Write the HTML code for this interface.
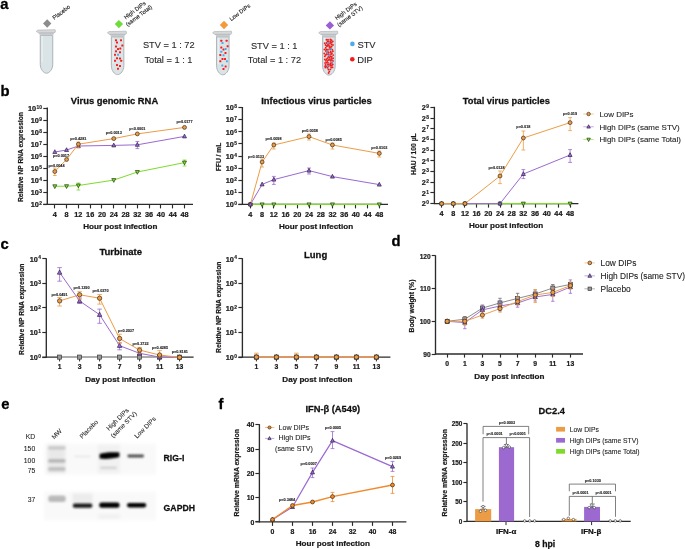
<!DOCTYPE html>
<html><head><meta charset="utf-8"><title>Figure</title>
<style>
html,body{margin:0;padding:0;background:#fff;}
body{width:685px;height:549px;overflow:hidden;}
svg{display:block;font-family:"Liberation Sans", sans-serif;will-change:transform;}
</style></head><body>
<svg width="685" height="549" viewBox="0 0 685 549">
<rect width="685" height="549" fill="#fff"/>
<text x="0.20" y="8.70" font-size="14.8" font-weight="bold" stroke="#000" stroke-width="0.300" stroke-linejoin="round" text-anchor="start" fill="#000">a</text>
<path d="M40.25,32.70 L40.25,64.20 C40.25,69.20 43.50,73.20 46.50,73.20 C49.50,73.20 52.75,69.20 52.75,64.20 L52.75,32.70 Z" fill="#dae4e6" stroke="#adb3b7" stroke-width="1.0"/>
<rect x="41.45" y="35.70" width="1.3" height="26.50" fill="#eaeff1"/>
<path d="M38.30,32.10 L54.70,32.10 L52.55,35.50 L40.45,35.50 Z" fill="#c9cccf"/>
<rect x="40.75" y="35.10" width="11.50" height="0.8" fill="#b2b6b9"/>
<path d="M36.30,31.30 L37.90,30.10 L55.10,29.70 L55.40,32.10 L54.00,32.80 L39.90,32.80 L38.50,33.00 Z" fill="#d6d8da" stroke="#a9adb0" stroke-width="0.6" stroke-linejoin="round"/>
<rect x="44.25" y="20.55" width="5.9" height="5.9" fill="#8c8c8c" transform="rotate(45 47.20 23.50)"/>
<g transform="translate(62.40 13.90) rotate(-37)"><text x="0" y="0.00" font-size="5.7" text-anchor="middle" fill="#222" stroke="#222" stroke-width="0.12">Placebo</text></g>
<path d="M111.35,34.20 L111.35,65.60 C111.35,70.60 114.60,74.60 117.60,74.60 C120.60,74.60 123.85,70.60 123.85,65.60 L123.85,34.20 Z" fill="#dae4e6" stroke="#adb3b7" stroke-width="1.0"/>
<rect x="112.55" y="37.20" width="1.3" height="26.40" fill="#eaeff1"/>
<path d="M109.40,33.60 L125.80,33.60 L123.65,37.00 L111.55,37.00 Z" fill="#c9cccf"/>
<rect x="111.85" y="36.60" width="11.50" height="0.8" fill="#b2b6b9"/>
<path d="M107.40,32.80 L109.00,31.60 L126.20,31.20 L126.50,33.60 L125.10,34.30 L111.00,34.30 L109.60,34.50 Z" fill="#d6d8da" stroke="#a9adb0" stroke-width="0.6" stroke-linejoin="round"/>
<rect x="115.95" y="21.15" width="5.9" height="5.9" fill="#6fdc3a" transform="rotate(45 118.90 24.10)"/>
<g transform="translate(136.00 11.80) rotate(-37)"><text x="0" y="0.00" font-size="5.7" text-anchor="middle" fill="#222" stroke="#222" stroke-width="0.12">High DIPs</text><text x="0" y="6.70" font-size="5.7" text-anchor="middle" fill="#222" stroke="#222" stroke-width="0.12">(same Total)</text></g>
<path d="M216.55,34.20 L216.55,65.80 C216.55,70.80 219.80,74.80 222.80,74.80 C225.80,74.80 229.05,70.80 229.05,65.80 L229.05,34.20 Z" fill="#dae4e6" stroke="#adb3b7" stroke-width="1.0"/>
<rect x="217.75" y="37.20" width="1.3" height="26.60" fill="#eaeff1"/>
<path d="M214.60,33.60 L231.00,33.60 L228.85,37.00 L216.75,37.00 Z" fill="#c9cccf"/>
<rect x="217.05" y="36.60" width="11.50" height="0.8" fill="#b2b6b9"/>
<path d="M212.60,32.80 L214.20,31.60 L231.40,31.20 L231.70,33.60 L230.30,34.30 L216.20,34.30 L214.80,34.50 Z" fill="#d6d8da" stroke="#a9adb0" stroke-width="0.6" stroke-linejoin="round"/>
<rect x="221.05" y="22.05" width="5.9" height="5.9" fill="#f29a3c" transform="rotate(45 224.00 25.00)"/>
<g transform="translate(241.00 13.90) rotate(-37)"><text x="0" y="0.00" font-size="5.7" text-anchor="middle" fill="#222" stroke="#222" stroke-width="0.12">Low DIPs</text></g>
<path d="M322.65,34.20 L322.65,66.10 C322.65,71.10 325.90,75.10 328.90,75.10 C331.90,75.10 335.15,71.10 335.15,66.10 L335.15,34.20 Z" fill="#dae4e6" stroke="#adb3b7" stroke-width="1.0"/>
<rect x="323.85" y="37.20" width="1.3" height="26.90" fill="#eaeff1"/>
<path d="M320.70,33.60 L337.10,33.60 L334.95,37.00 L322.85,37.00 Z" fill="#c9cccf"/>
<rect x="323.15" y="36.60" width="11.50" height="0.8" fill="#b2b6b9"/>
<path d="M318.70,32.80 L320.30,31.60 L337.50,31.20 L337.80,33.60 L336.40,34.30 L322.30,34.30 L320.90,34.50 Z" fill="#d6d8da" stroke="#a9adb0" stroke-width="0.6" stroke-linejoin="round"/>
<rect x="326.95" y="22.45" width="5.9" height="5.9" fill="#9a5fd0" transform="rotate(45 329.90 25.40)"/>
<g transform="translate(347.00 12.50) rotate(-37)"><text x="0" y="0.00" font-size="5.7" text-anchor="middle" fill="#222" stroke="#222" stroke-width="0.12">High DIPs</text><text x="0" y="6.70" font-size="5.7" text-anchor="middle" fill="#222" stroke="#222" stroke-width="0.12">(same STV)</text></g>
<rect x="115.00" y="39.20" width="2.0" height="2.0" rx="0.5" fill="#fa1a1a"/>
<rect x="120.00" y="39.20" width="2.0" height="2.0" rx="0.5" fill="#fa1a1a"/>
<rect x="116.00" y="41.50" width="2.0" height="2.0" rx="0.5" fill="#fa1a1a"/>
<rect x="121.30" y="44.50" width="2.0" height="2.0" rx="0.5" fill="#fa1a1a"/>
<rect x="115.00" y="45.50" width="2.0" height="2.0" rx="0.5" fill="#fa1a1a"/>
<rect x="117.00" y="48.00" width="2.0" height="2.0" rx="0.5" fill="#fa1a1a"/>
<rect x="119.30" y="47.50" width="2.0" height="2.0" rx="0.5" fill="#fa1a1a"/>
<rect x="115.00" y="50.30" width="2.0" height="2.0" rx="0.5" fill="#fa1a1a"/>
<rect x="119.00" y="51.30" width="2.0" height="2.0" rx="0.5" fill="#fa1a1a"/>
<rect x="114.00" y="53.80" width="2.0" height="2.0" rx="0.5" fill="#fa1a1a"/>
<rect x="117.00" y="53.80" width="2.0" height="2.0" rx="0.5" fill="#4ea9ea"/>
<rect x="116.00" y="57.30" width="2.0" height="2.0" rx="0.5" fill="#fa1a1a"/>
<rect x="119.00" y="57.60" width="2.0" height="2.0" rx="0.5" fill="#fa1a1a"/>
<rect x="114.00" y="59.80" width="2.0" height="2.0" rx="0.5" fill="#fa1a1a"/>
<rect x="120.20" y="59.80" width="2.0" height="2.0" rx="0.5" fill="#fa1a1a"/>
<rect x="116.00" y="64.10" width="2.0" height="2.0" rx="0.5" fill="#fa1a1a"/>
<rect x="119.00" y="65.10" width="2.0" height="2.0" rx="0.5" fill="#fa1a1a"/>
<rect x="117.00" y="67.80" width="2.0" height="2.0" rx="0.5" fill="#fa1a1a"/>
<rect x="220.30" y="39.80" width="2.0" height="2.0" rx="0.5" fill="#fa1a1a"/>
<rect x="225.60" y="39.80" width="2.0" height="2.0" rx="0.5" fill="#fa1a1a"/>
<rect x="226.60" y="45.20" width="2.0" height="2.0" rx="0.5" fill="#fa1a1a"/>
<rect x="220.30" y="46.50" width="2.0" height="2.0" rx="0.5" fill="#fa1a1a"/>
<rect x="222.50" y="48.50" width="2.0" height="2.0" rx="0.5" fill="#fa1a1a"/>
<rect x="224.50" y="52.10" width="2.0" height="2.0" rx="0.5" fill="#fa1a1a"/>
<rect x="219.30" y="54.10" width="2.0" height="2.0" rx="0.5" fill="#fa1a1a"/>
<rect x="221.50" y="57.90" width="2.0" height="2.0" rx="0.5" fill="#fa1a1a"/>
<rect x="224.00" y="58.10" width="2.0" height="2.0" rx="0.5" fill="#fa1a1a"/>
<rect x="219.30" y="60.30" width="2.0" height="2.0" rx="0.5" fill="#fa1a1a"/>
<rect x="222.50" y="68.10" width="2.0" height="2.0" rx="0.5" fill="#fa1a1a"/>
<rect x="224.60" y="65.60" width="2.0" height="2.0" rx="0.5" fill="#fa1a1a"/>
<rect x="221.50" y="42.00" width="2.0" height="2.0" rx="0.5" fill="#4ea9ea"/>
<rect x="224.60" y="48.00" width="2.0" height="2.0" rx="0.5" fill="#4ea9ea"/>
<rect x="220.30" y="50.80" width="2.0" height="2.0" rx="0.5" fill="#4ea9ea"/>
<rect x="222.50" y="54.30" width="2.0" height="2.0" rx="0.5" fill="#4ea9ea"/>
<rect x="225.90" y="60.30" width="2.0" height="2.0" rx="0.5" fill="#4ea9ea"/>
<rect x="221.30" y="64.60" width="2.0" height="2.0" rx="0.5" fill="#4ea9ea"/>
<circle cx="326.47" cy="39.81" r="0.95" fill="#f21c1c"/>
<circle cx="328.02" cy="39.81" r="0.95" fill="#f21c1c"/>
<circle cx="330.36" cy="39.43" r="0.95" fill="#f21c1c"/>
<circle cx="331.53" cy="40.08" r="0.95" fill="#f21c1c"/>
<circle cx="327.54" cy="41.55" r="0.95" fill="#f21c1c"/>
<circle cx="328.76" cy="41.48" r="0.95" fill="#f21c1c"/>
<circle cx="330.72" cy="41.22" r="0.95" fill="#f21c1c"/>
<circle cx="332.77" cy="41.40" r="0.95" fill="#f21c1c"/>
<circle cx="324.72" cy="43.23" r="0.95" fill="#f21c1c"/>
<circle cx="326.65" cy="43.06" r="0.95" fill="#f21c1c"/>
<circle cx="328.75" cy="43.55" r="0.95" fill="#f21c1c"/>
<circle cx="330.29" cy="42.93" r="0.95" fill="#f21c1c"/>
<circle cx="331.71" cy="42.71" r="0.95" fill="#f21c1c"/>
<circle cx="325.51" cy="45.06" r="0.95" fill="#f21c1c"/>
<circle cx="327.81" cy="45.06" r="0.95" fill="#f21c1c"/>
<circle cx="328.94" cy="45.12" r="0.95" fill="#f21c1c"/>
<circle cx="331.43" cy="44.66" r="0.95" fill="#f21c1c"/>
<circle cx="332.92" cy="45.00" r="0.95" fill="#f21c1c"/>
<circle cx="326.73" cy="46.06" r="0.95" fill="#f21c1c"/>
<circle cx="327.94" cy="46.00" r="0.95" fill="#f21c1c"/>
<circle cx="329.81" cy="46.45" r="0.95" fill="#f21c1c"/>
<circle cx="331.62" cy="46.61" r="0.95" fill="#f21c1c"/>
<circle cx="325.73" cy="47.70" r="0.95" fill="#f21c1c"/>
<circle cx="329.47" cy="47.87" r="0.95" fill="#f21c1c"/>
<circle cx="330.74" cy="47.95" r="0.95" fill="#f21c1c"/>
<circle cx="324.44" cy="49.48" r="0.95" fill="#f21c1c"/>
<circle cx="326.35" cy="49.52" r="0.95" fill="#f21c1c"/>
<circle cx="327.93" cy="49.77" r="0.95" fill="#f21c1c"/>
<circle cx="330.19" cy="49.58" r="0.95" fill="#f21c1c"/>
<circle cx="332.31" cy="49.69" r="0.95" fill="#f21c1c"/>
<circle cx="325.93" cy="51.06" r="0.95" fill="#f21c1c"/>
<circle cx="327.77" cy="51.64" r="0.95" fill="#f21c1c"/>
<circle cx="330.73" cy="51.76" r="0.95" fill="#f21c1c"/>
<circle cx="332.89" cy="51.28" r="0.95" fill="#f21c1c"/>
<circle cx="324.28" cy="53.42" r="0.95" fill="#f21c1c"/>
<circle cx="326.68" cy="52.78" r="0.95" fill="#f21c1c"/>
<circle cx="328.39" cy="52.81" r="0.95" fill="#f21c1c"/>
<circle cx="330.30" cy="52.61" r="0.95" fill="#f21c1c"/>
<circle cx="331.95" cy="53.32" r="0.95" fill="#f21c1c"/>
<circle cx="325.40" cy="55.03" r="0.95" fill="#f21c1c"/>
<circle cx="326.96" cy="54.44" r="0.95" fill="#f21c1c"/>
<circle cx="328.80" cy="54.36" r="0.95" fill="#f21c1c"/>
<circle cx="331.06" cy="54.32" r="0.95" fill="#f21c1c"/>
<circle cx="333.15" cy="55.08" r="0.95" fill="#f21c1c"/>
<circle cx="324.87" cy="56.38" r="0.95" fill="#f21c1c"/>
<circle cx="328.48" cy="56.72" r="0.95" fill="#f21c1c"/>
<circle cx="330.22" cy="56.28" r="0.95" fill="#f21c1c"/>
<circle cx="331.74" cy="56.75" r="0.95" fill="#f21c1c"/>
<circle cx="327.61" cy="58.13" r="0.95" fill="#f21c1c"/>
<circle cx="329.57" cy="57.82" r="0.95" fill="#f21c1c"/>
<circle cx="331.36" cy="58.28" r="0.95" fill="#f21c1c"/>
<circle cx="333.06" cy="58.28" r="0.95" fill="#f21c1c"/>
<circle cx="324.81" cy="59.49" r="0.95" fill="#f21c1c"/>
<circle cx="326.60" cy="59.22" r="0.95" fill="#f21c1c"/>
<circle cx="328.74" cy="59.94" r="0.95" fill="#f21c1c"/>
<circle cx="330.00" cy="59.81" r="0.95" fill="#f21c1c"/>
<circle cx="331.85" cy="59.90" r="0.95" fill="#f21c1c"/>
<circle cx="325.83" cy="60.83" r="0.95" fill="#f21c1c"/>
<circle cx="327.38" cy="61.01" r="0.95" fill="#f21c1c"/>
<circle cx="330.78" cy="60.81" r="0.95" fill="#f21c1c"/>
<circle cx="332.96" cy="60.98" r="0.95" fill="#f21c1c"/>
<circle cx="325.07" cy="63.04" r="0.95" fill="#f21c1c"/>
<circle cx="326.85" cy="62.74" r="0.95" fill="#f21c1c"/>
<circle cx="328.03" cy="62.84" r="0.95" fill="#f21c1c"/>
<circle cx="330.47" cy="63.24" r="0.95" fill="#f21c1c"/>
<circle cx="331.97" cy="62.73" r="0.95" fill="#f21c1c"/>
<circle cx="325.60" cy="64.85" r="0.95" fill="#f21c1c"/>
<circle cx="327.59" cy="64.96" r="0.95" fill="#f21c1c"/>
<circle cx="328.90" cy="64.51" r="0.95" fill="#f21c1c"/>
<circle cx="330.74" cy="64.47" r="0.95" fill="#f21c1c"/>
<circle cx="332.79" cy="64.38" r="0.95" fill="#f21c1c"/>
<circle cx="325.13" cy="66.16" r="0.95" fill="#f21c1c"/>
<circle cx="326.08" cy="66.54" r="0.95" fill="#f21c1c"/>
<circle cx="328.49" cy="66.26" r="0.95" fill="#f21c1c"/>
<circle cx="330.36" cy="65.77" r="0.95" fill="#f21c1c"/>
<circle cx="331.86" cy="65.77" r="0.95" fill="#f21c1c"/>
<circle cx="325.36" cy="67.53" r="0.95" fill="#f21c1c"/>
<circle cx="327.52" cy="67.80" r="0.95" fill="#f21c1c"/>
<circle cx="331.17" cy="67.58" r="0.95" fill="#f21c1c"/>
<circle cx="332.51" cy="67.41" r="0.95" fill="#f21c1c"/>
<circle cx="328.48" cy="69.52" r="0.95" fill="#f21c1c"/>
<circle cx="330.33" cy="69.40" r="0.95" fill="#f21c1c"/>
<circle cx="329.31" cy="71.52" r="0.95" fill="#f21c1c"/>
<circle cx="328.59" cy="72.93" r="0.95" fill="#f21c1c"/>
<circle cx="328.00" cy="43.00" r="1.0" fill="#4ea9ea"/>
<circle cx="331.10" cy="49.10" r="1.0" fill="#4ea9ea"/>
<circle cx="327.00" cy="52.10" r="1.0" fill="#4ea9ea"/>
<circle cx="329.00" cy="55.60" r="1.0" fill="#4ea9ea"/>
<circle cx="332.30" cy="61.90" r="1.0" fill="#4ea9ea"/>
<circle cx="327.80" cy="66.10" r="1.0" fill="#4ea9ea"/>
<text x="142.90" y="48.10" font-size="9.25" stroke="#2a2a2a" stroke-width="0.111" stroke-linejoin="round" text-anchor="start" fill="#2a2a2a">STV = 1 : 72</text>
<text x="144.40" y="63.20" font-size="9.25" stroke="#2a2a2a" stroke-width="0.111" stroke-linejoin="round" text-anchor="start" fill="#2a2a2a">Total = 1 : 1</text>
<text x="250.90" y="48.90" font-size="9.25" stroke="#2a2a2a" stroke-width="0.111" stroke-linejoin="round" text-anchor="start" fill="#2a2a2a">STV = 1 : 1</text>
<text x="247.80" y="63.30" font-size="9.25" stroke="#2a2a2a" stroke-width="0.111" stroke-linejoin="round" text-anchor="start" fill="#2a2a2a">Total = 1 : 72</text>
<circle cx="352.4" cy="43.9" r="2.3" fill="#4ea9ea"/>
<circle cx="352.3" cy="59.3" r="2.3" fill="#f21c1c"/>
<text x="357.40" y="47.90" font-size="9.4" stroke="#2a2a2a" stroke-width="0.113" stroke-linejoin="round" text-anchor="start" fill="#2a2a2a">STV</text>
<text x="357.20" y="63.10" font-size="9.4" stroke="#2a2a2a" stroke-width="0.113" stroke-linejoin="round" text-anchor="start" fill="#2a2a2a">DIP</text>
<text x="0.60" y="96.00" font-size="14.8" font-weight="bold" stroke="#000" stroke-width="0.300" stroke-linejoin="round" text-anchor="start" fill="#000">b</text>
<text x="114.50" y="104.00" font-size="9.4" font-weight="bold" stroke="#111" stroke-width="0.282" stroke-linejoin="round" text-anchor="middle" fill="#111">Virus genomic RNA</text>
<line x1="47.30" y1="107.40" x2="47.30" y2="205.00" stroke="#2b2b2b" stroke-width="1.35"/>
<line x1="43.30" y1="108.50" x2="47.30" y2="108.50" stroke="#2b2b2b" stroke-width="1.15"/>
<text x="41.95" y="108.70" font-size="4.9" font-weight="bold" stroke="#1a1a1a" stroke-width="0.147" stroke-linejoin="round" text-anchor="end" fill="#1a1a1a">10</text>
<text x="36.05" y="110.75" font-size="7.3" font-weight="bold" stroke="#1a1a1a" stroke-width="0.219" stroke-linejoin="round" text-anchor="end" fill="#1a1a1a">10</text>
<line x1="43.30" y1="120.50" x2="47.30" y2="120.50" stroke="#2b2b2b" stroke-width="1.15"/>
<text x="41.95" y="120.75" font-size="4.9" font-weight="bold" stroke="#1a1a1a" stroke-width="0.147" stroke-linejoin="round" text-anchor="end" fill="#1a1a1a">9</text>
<text x="38.78" y="122.80" font-size="7.3" font-weight="bold" stroke="#1a1a1a" stroke-width="0.219" stroke-linejoin="round" text-anchor="end" fill="#1a1a1a">10</text>
<line x1="43.30" y1="132.50" x2="47.30" y2="132.50" stroke="#2b2b2b" stroke-width="1.15"/>
<text x="41.95" y="132.80" font-size="4.9" font-weight="bold" stroke="#1a1a1a" stroke-width="0.147" stroke-linejoin="round" text-anchor="end" fill="#1a1a1a">8</text>
<text x="38.78" y="134.85" font-size="7.3" font-weight="bold" stroke="#1a1a1a" stroke-width="0.219" stroke-linejoin="round" text-anchor="end" fill="#1a1a1a">10</text>
<line x1="43.30" y1="144.50" x2="47.30" y2="144.50" stroke="#2b2b2b" stroke-width="1.15"/>
<text x="41.95" y="144.85" font-size="4.9" font-weight="bold" stroke="#1a1a1a" stroke-width="0.147" stroke-linejoin="round" text-anchor="end" fill="#1a1a1a">7</text>
<text x="38.78" y="146.90" font-size="7.3" font-weight="bold" stroke="#1a1a1a" stroke-width="0.219" stroke-linejoin="round" text-anchor="end" fill="#1a1a1a">10</text>
<line x1="43.30" y1="156.50" x2="47.30" y2="156.50" stroke="#2b2b2b" stroke-width="1.15"/>
<text x="41.95" y="156.90" font-size="4.9" font-weight="bold" stroke="#1a1a1a" stroke-width="0.147" stroke-linejoin="round" text-anchor="end" fill="#1a1a1a">6</text>
<text x="38.78" y="158.95" font-size="7.3" font-weight="bold" stroke="#1a1a1a" stroke-width="0.219" stroke-linejoin="round" text-anchor="end" fill="#1a1a1a">10</text>
<line x1="43.30" y1="168.50" x2="47.30" y2="168.50" stroke="#2b2b2b" stroke-width="1.15"/>
<text x="41.95" y="168.95" font-size="4.9" font-weight="bold" stroke="#1a1a1a" stroke-width="0.147" stroke-linejoin="round" text-anchor="end" fill="#1a1a1a">5</text>
<text x="38.78" y="171.00" font-size="7.3" font-weight="bold" stroke="#1a1a1a" stroke-width="0.219" stroke-linejoin="round" text-anchor="end" fill="#1a1a1a">10</text>
<line x1="43.30" y1="180.50" x2="47.30" y2="180.50" stroke="#2b2b2b" stroke-width="1.15"/>
<text x="41.95" y="181.00" font-size="4.9" font-weight="bold" stroke="#1a1a1a" stroke-width="0.147" stroke-linejoin="round" text-anchor="end" fill="#1a1a1a">4</text>
<text x="38.78" y="183.05" font-size="7.3" font-weight="bold" stroke="#1a1a1a" stroke-width="0.219" stroke-linejoin="round" text-anchor="end" fill="#1a1a1a">10</text>
<line x1="43.30" y1="192.50" x2="47.30" y2="192.50" stroke="#2b2b2b" stroke-width="1.15"/>
<text x="41.95" y="193.05" font-size="4.9" font-weight="bold" stroke="#1a1a1a" stroke-width="0.147" stroke-linejoin="round" text-anchor="end" fill="#1a1a1a">3</text>
<text x="38.78" y="195.10" font-size="7.3" font-weight="bold" stroke="#1a1a1a" stroke-width="0.219" stroke-linejoin="round" text-anchor="end" fill="#1a1a1a">10</text>
<line x1="43.30" y1="204.50" x2="47.30" y2="204.50" stroke="#2b2b2b" stroke-width="1.15"/>
<text x="41.95" y="205.10" font-size="4.9" font-weight="bold" stroke="#1a1a1a" stroke-width="0.147" stroke-linejoin="round" text-anchor="end" fill="#1a1a1a">2</text>
<text x="38.78" y="207.15" font-size="7.3" font-weight="bold" stroke="#1a1a1a" stroke-width="0.219" stroke-linejoin="round" text-anchor="end" fill="#1a1a1a">10</text>
<line x1="43.20" y1="204.40" x2="193.00" y2="204.40" stroke="#2b2b2b" stroke-width="1.35"/>
<line x1="54.50" y1="204.40" x2="54.50" y2="208.40" stroke="#2b2b2b" stroke-width="1.15"/>
<text x="54.80" y="216.60" font-size="7.3" font-weight="bold" stroke="#1a1a1a" stroke-width="0.219" stroke-linejoin="round" text-anchor="middle" fill="#1a1a1a">4</text>
<line x1="66.50" y1="204.40" x2="66.50" y2="208.40" stroke="#2b2b2b" stroke-width="1.15"/>
<text x="66.59" y="216.60" font-size="7.3" font-weight="bold" stroke="#1a1a1a" stroke-width="0.219" stroke-linejoin="round" text-anchor="middle" fill="#1a1a1a">8</text>
<line x1="78.50" y1="204.40" x2="78.50" y2="208.40" stroke="#2b2b2b" stroke-width="1.15"/>
<text x="78.38" y="216.60" font-size="7.3" font-weight="bold" stroke="#1a1a1a" stroke-width="0.219" stroke-linejoin="round" text-anchor="middle" fill="#1a1a1a">12</text>
<line x1="90.50" y1="204.40" x2="90.50" y2="208.40" stroke="#2b2b2b" stroke-width="1.15"/>
<text x="90.18" y="216.60" font-size="7.3" font-weight="bold" stroke="#1a1a1a" stroke-width="0.219" stroke-linejoin="round" text-anchor="middle" fill="#1a1a1a">16</text>
<line x1="101.50" y1="204.40" x2="101.50" y2="208.40" stroke="#2b2b2b" stroke-width="1.15"/>
<text x="101.97" y="216.60" font-size="7.3" font-weight="bold" stroke="#1a1a1a" stroke-width="0.219" stroke-linejoin="round" text-anchor="middle" fill="#1a1a1a">20</text>
<line x1="113.50" y1="204.40" x2="113.50" y2="208.40" stroke="#2b2b2b" stroke-width="1.15"/>
<text x="113.76" y="216.60" font-size="7.3" font-weight="bold" stroke="#1a1a1a" stroke-width="0.219" stroke-linejoin="round" text-anchor="middle" fill="#1a1a1a">24</text>
<line x1="125.50" y1="204.40" x2="125.50" y2="208.40" stroke="#2b2b2b" stroke-width="1.15"/>
<text x="125.55" y="216.60" font-size="7.3" font-weight="bold" stroke="#1a1a1a" stroke-width="0.219" stroke-linejoin="round" text-anchor="middle" fill="#1a1a1a">28</text>
<line x1="137.50" y1="204.40" x2="137.50" y2="208.40" stroke="#2b2b2b" stroke-width="1.15"/>
<text x="137.34" y="216.60" font-size="7.3" font-weight="bold" stroke="#1a1a1a" stroke-width="0.219" stroke-linejoin="round" text-anchor="middle" fill="#1a1a1a">32</text>
<line x1="149.50" y1="204.40" x2="149.50" y2="208.40" stroke="#2b2b2b" stroke-width="1.15"/>
<text x="149.14" y="216.60" font-size="7.3" font-weight="bold" stroke="#1a1a1a" stroke-width="0.219" stroke-linejoin="round" text-anchor="middle" fill="#1a1a1a">36</text>
<line x1="160.50" y1="204.40" x2="160.50" y2="208.40" stroke="#2b2b2b" stroke-width="1.15"/>
<text x="160.93" y="216.60" font-size="7.3" font-weight="bold" stroke="#1a1a1a" stroke-width="0.219" stroke-linejoin="round" text-anchor="middle" fill="#1a1a1a">40</text>
<line x1="172.50" y1="204.40" x2="172.50" y2="208.40" stroke="#2b2b2b" stroke-width="1.15"/>
<text x="172.72" y="216.60" font-size="7.3" font-weight="bold" stroke="#1a1a1a" stroke-width="0.219" stroke-linejoin="round" text-anchor="middle" fill="#1a1a1a">44</text>
<line x1="184.50" y1="204.40" x2="184.50" y2="208.40" stroke="#2b2b2b" stroke-width="1.15"/>
<text x="184.51" y="216.60" font-size="7.3" font-weight="bold" stroke="#1a1a1a" stroke-width="0.219" stroke-linejoin="round" text-anchor="middle" fill="#1a1a1a">48</text>
<text x="120.30" y="228.70" font-size="8.1" font-weight="bold" stroke="#1a1a1a" stroke-width="0.243" stroke-linejoin="round" text-anchor="middle" fill="#1a1a1a">Hour post infection</text>
<text x="23.30" y="157.10" font-size="6.7" font-weight="bold" stroke="#1a1a1a" stroke-width="0.201" stroke-linejoin="round" text-anchor="middle" fill="#1a1a1a" transform="rotate(-90 23.30 157.10)">Relative NP RNA expression</text>
<polyline points="54.80,186.30 66.59,186.20 78.38,185.50 113.76,180.10 137.34,172.00 184.51,162.60" fill="none" stroke="#7EDB2C" stroke-width="1.0" stroke-linejoin="round"/>
<line x1="78.38" y1="183.00" x2="78.38" y2="190.00" stroke="#7EDB2C" stroke-width="0.8"/>
<line x1="76.48" y1="183.00" x2="80.28" y2="183.00" stroke="#7EDB2C" stroke-width="0.8"/>
<line x1="76.48" y1="190.00" x2="80.28" y2="190.00" stroke="#7EDB2C" stroke-width="0.8"/>
<line x1="184.51" y1="160.00" x2="184.51" y2="166.00" stroke="#7EDB2C" stroke-width="0.8"/>
<line x1="182.61" y1="160.00" x2="186.41" y2="160.00" stroke="#7EDB2C" stroke-width="0.8"/>
<line x1="182.61" y1="166.00" x2="186.41" y2="166.00" stroke="#7EDB2C" stroke-width="0.8"/>
<polygon points="54.80,188.58 52.80,184.78 56.80,184.78" fill="#7EDB2C" stroke="#1c3010" stroke-width="0.65" stroke-linejoin="round"/>
<polygon points="66.59,188.48 64.59,184.68 68.59,184.68" fill="#7EDB2C" stroke="#1c3010" stroke-width="0.65" stroke-linejoin="round"/>
<polygon points="78.38,187.78 76.38,183.98 80.38,183.98" fill="#7EDB2C" stroke="#1c3010" stroke-width="0.65" stroke-linejoin="round"/>
<polygon points="113.76,182.38 111.76,178.58 115.76,178.58" fill="#7EDB2C" stroke="#1c3010" stroke-width="0.65" stroke-linejoin="round"/>
<polygon points="137.34,174.28 135.34,170.48 139.34,170.48" fill="#7EDB2C" stroke="#1c3010" stroke-width="0.65" stroke-linejoin="round"/>
<polygon points="184.51,164.88 182.51,161.08 186.51,161.08" fill="#7EDB2C" stroke="#1c3010" stroke-width="0.65" stroke-linejoin="round"/>
<polyline points="54.80,152.00 66.59,150.00 78.38,146.00 113.76,145.40 137.34,144.80 184.51,136.40" fill="none" stroke="#9B69D0" stroke-width="1.0" stroke-linejoin="round"/>
<line x1="137.34" y1="141.50" x2="137.34" y2="148.60" stroke="#9B69D0" stroke-width="0.8"/>
<line x1="135.44" y1="141.50" x2="139.24" y2="141.50" stroke="#9B69D0" stroke-width="0.8"/>
<line x1="135.44" y1="148.60" x2="139.24" y2="148.60" stroke="#9B69D0" stroke-width="0.8"/>
<polygon points="54.80,149.72 52.80,153.52 56.80,153.52" fill="#9B69D0" stroke="#24183a" stroke-width="0.65" stroke-linejoin="round"/>
<polygon points="66.59,147.72 64.59,151.52 68.59,151.52" fill="#9B69D0" stroke="#24183a" stroke-width="0.65" stroke-linejoin="round"/>
<polygon points="78.38,143.72 76.38,147.52 80.38,147.52" fill="#9B69D0" stroke="#24183a" stroke-width="0.65" stroke-linejoin="round"/>
<polygon points="113.76,143.12 111.76,146.92 115.76,146.92" fill="#9B69D0" stroke="#24183a" stroke-width="0.65" stroke-linejoin="round"/>
<polygon points="137.34,142.52 135.34,146.32 139.34,146.32" fill="#9B69D0" stroke="#24183a" stroke-width="0.65" stroke-linejoin="round"/>
<polygon points="184.51,134.12 182.51,137.92 186.51,137.92" fill="#9B69D0" stroke="#24183a" stroke-width="0.65" stroke-linejoin="round"/>
<polyline points="54.80,171.50 66.59,159.50 78.38,144.20 113.76,138.60 137.34,133.90 184.51,127.40" fill="none" stroke="#ED9C46" stroke-width="1.0" stroke-linejoin="round"/>
<line x1="54.80" y1="168.00" x2="54.80" y2="175.50" stroke="#ED9C46" stroke-width="0.8"/>
<line x1="52.90" y1="168.00" x2="56.70" y2="168.00" stroke="#ED9C46" stroke-width="0.8"/>
<line x1="52.90" y1="175.50" x2="56.70" y2="175.50" stroke="#ED9C46" stroke-width="0.8"/>
<line x1="78.38" y1="142.00" x2="78.38" y2="148.00" stroke="#ED9C46" stroke-width="0.8"/>
<line x1="76.48" y1="142.00" x2="80.28" y2="142.00" stroke="#ED9C46" stroke-width="0.8"/>
<line x1="76.48" y1="148.00" x2="80.28" y2="148.00" stroke="#ED9C46" stroke-width="0.8"/>
<circle cx="54.80" cy="171.50" r="1.95" fill="#ED9C46" stroke="#2e2216" stroke-width="0.65"/>
<circle cx="66.59" cy="159.50" r="1.95" fill="#ED9C46" stroke="#2e2216" stroke-width="0.65"/>
<circle cx="78.38" cy="144.20" r="1.95" fill="#ED9C46" stroke="#2e2216" stroke-width="0.65"/>
<circle cx="113.76" cy="138.60" r="1.95" fill="#ED9C46" stroke="#2e2216" stroke-width="0.65"/>
<circle cx="137.34" cy="133.90" r="1.95" fill="#ED9C46" stroke="#2e2216" stroke-width="0.65"/>
<circle cx="184.51" cy="127.40" r="1.95" fill="#ED9C46" stroke="#2e2216" stroke-width="0.65"/>
<text x="56.50" y="167.00" font-size="3.8" font-weight="bold" stroke="#222" stroke-width="0.114" stroke-linejoin="round" text-anchor="middle" fill="#222">p=0.0044</text>
<text x="61.00" y="156.60" font-size="3.8" font-weight="bold" stroke="#222" stroke-width="0.114" stroke-linejoin="round" text-anchor="middle" fill="#222">p=0.0017</text>
<text x="78.38" y="140.00" font-size="3.8" font-weight="bold" stroke="#222" stroke-width="0.114" stroke-linejoin="round" text-anchor="middle" fill="#222">p=0.4281</text>
<text x="113.76" y="134.10" font-size="3.8" font-weight="bold" stroke="#222" stroke-width="0.114" stroke-linejoin="round" text-anchor="middle" fill="#222">p=0.0013</text>
<text x="137.34" y="130.40" font-size="3.8" font-weight="bold" stroke="#222" stroke-width="0.114" stroke-linejoin="round" text-anchor="middle" fill="#222">p&lt;0.0001</text>
<text x="184.51" y="123.20" font-size="3.8" font-weight="bold" stroke="#222" stroke-width="0.114" stroke-linejoin="round" text-anchor="middle" fill="#222">p=0.0177</text>
<text x="316.50" y="104.00" font-size="9.4" font-weight="bold" stroke="#111" stroke-width="0.282" stroke-linejoin="round" text-anchor="middle" fill="#111">Infectious virus particles</text>
<line x1="242.40" y1="107.00" x2="242.40" y2="205.00" stroke="#2b2b2b" stroke-width="1.35"/>
<line x1="238.40" y1="107.50" x2="242.40" y2="107.50" stroke="#2b2b2b" stroke-width="1.15"/>
<text x="237.05" y="108.30" font-size="4.9" font-weight="bold" stroke="#1a1a1a" stroke-width="0.147" stroke-linejoin="round" text-anchor="end" fill="#1a1a1a">8</text>
<text x="233.88" y="110.35" font-size="7.3" font-weight="bold" stroke="#1a1a1a" stroke-width="0.219" stroke-linejoin="round" text-anchor="end" fill="#1a1a1a">10</text>
<line x1="238.40" y1="119.50" x2="242.40" y2="119.50" stroke="#2b2b2b" stroke-width="1.15"/>
<text x="237.05" y="120.40" font-size="4.9" font-weight="bold" stroke="#1a1a1a" stroke-width="0.147" stroke-linejoin="round" text-anchor="end" fill="#1a1a1a">7</text>
<text x="233.88" y="122.45" font-size="7.3" font-weight="bold" stroke="#1a1a1a" stroke-width="0.219" stroke-linejoin="round" text-anchor="end" fill="#1a1a1a">10</text>
<line x1="238.40" y1="131.50" x2="242.40" y2="131.50" stroke="#2b2b2b" stroke-width="1.15"/>
<text x="237.05" y="132.50" font-size="4.9" font-weight="bold" stroke="#1a1a1a" stroke-width="0.147" stroke-linejoin="round" text-anchor="end" fill="#1a1a1a">6</text>
<text x="233.88" y="134.55" font-size="7.3" font-weight="bold" stroke="#1a1a1a" stroke-width="0.219" stroke-linejoin="round" text-anchor="end" fill="#1a1a1a">10</text>
<line x1="238.40" y1="143.50" x2="242.40" y2="143.50" stroke="#2b2b2b" stroke-width="1.15"/>
<text x="237.05" y="144.60" font-size="4.9" font-weight="bold" stroke="#1a1a1a" stroke-width="0.147" stroke-linejoin="round" text-anchor="end" fill="#1a1a1a">5</text>
<text x="233.88" y="146.65" font-size="7.3" font-weight="bold" stroke="#1a1a1a" stroke-width="0.219" stroke-linejoin="round" text-anchor="end" fill="#1a1a1a">10</text>
<line x1="238.40" y1="156.50" x2="242.40" y2="156.50" stroke="#2b2b2b" stroke-width="1.15"/>
<text x="237.05" y="156.70" font-size="4.9" font-weight="bold" stroke="#1a1a1a" stroke-width="0.147" stroke-linejoin="round" text-anchor="end" fill="#1a1a1a">4</text>
<text x="233.88" y="158.75" font-size="7.3" font-weight="bold" stroke="#1a1a1a" stroke-width="0.219" stroke-linejoin="round" text-anchor="end" fill="#1a1a1a">10</text>
<line x1="238.40" y1="168.50" x2="242.40" y2="168.50" stroke="#2b2b2b" stroke-width="1.15"/>
<text x="237.05" y="168.80" font-size="4.9" font-weight="bold" stroke="#1a1a1a" stroke-width="0.147" stroke-linejoin="round" text-anchor="end" fill="#1a1a1a">3</text>
<text x="233.88" y="170.85" font-size="7.3" font-weight="bold" stroke="#1a1a1a" stroke-width="0.219" stroke-linejoin="round" text-anchor="end" fill="#1a1a1a">10</text>
<line x1="238.40" y1="180.50" x2="242.40" y2="180.50" stroke="#2b2b2b" stroke-width="1.15"/>
<text x="237.05" y="180.90" font-size="4.9" font-weight="bold" stroke="#1a1a1a" stroke-width="0.147" stroke-linejoin="round" text-anchor="end" fill="#1a1a1a">2</text>
<text x="233.88" y="182.95" font-size="7.3" font-weight="bold" stroke="#1a1a1a" stroke-width="0.219" stroke-linejoin="round" text-anchor="end" fill="#1a1a1a">10</text>
<line x1="238.40" y1="192.50" x2="242.40" y2="192.50" stroke="#2b2b2b" stroke-width="1.15"/>
<text x="237.05" y="193.00" font-size="4.9" font-weight="bold" stroke="#1a1a1a" stroke-width="0.147" stroke-linejoin="round" text-anchor="end" fill="#1a1a1a">1</text>
<text x="233.88" y="195.05" font-size="7.3" font-weight="bold" stroke="#1a1a1a" stroke-width="0.219" stroke-linejoin="round" text-anchor="end" fill="#1a1a1a">10</text>
<line x1="238.40" y1="204.50" x2="242.40" y2="204.50" stroke="#2b2b2b" stroke-width="1.15"/>
<text x="237.05" y="205.10" font-size="4.9" font-weight="bold" stroke="#1a1a1a" stroke-width="0.147" stroke-linejoin="round" text-anchor="end" fill="#1a1a1a">0</text>
<text x="233.88" y="207.15" font-size="7.3" font-weight="bold" stroke="#1a1a1a" stroke-width="0.219" stroke-linejoin="round" text-anchor="end" fill="#1a1a1a">10</text>
<line x1="238.40" y1="204.40" x2="388.00" y2="204.40" stroke="#2b2b2b" stroke-width="1.35"/>
<line x1="250.50" y1="204.40" x2="250.50" y2="208.40" stroke="#2b2b2b" stroke-width="1.15"/>
<text x="250.40" y="216.60" font-size="7.3" font-weight="bold" stroke="#1a1a1a" stroke-width="0.219" stroke-linejoin="round" text-anchor="middle" fill="#1a1a1a">4</text>
<line x1="262.50" y1="204.40" x2="262.50" y2="208.40" stroke="#2b2b2b" stroke-width="1.15"/>
<text x="262.12" y="216.60" font-size="7.3" font-weight="bold" stroke="#1a1a1a" stroke-width="0.219" stroke-linejoin="round" text-anchor="middle" fill="#1a1a1a">8</text>
<line x1="273.50" y1="204.40" x2="273.50" y2="208.40" stroke="#2b2b2b" stroke-width="1.15"/>
<text x="273.84" y="216.60" font-size="7.3" font-weight="bold" stroke="#1a1a1a" stroke-width="0.219" stroke-linejoin="round" text-anchor="middle" fill="#1a1a1a">12</text>
<line x1="285.50" y1="204.40" x2="285.50" y2="208.40" stroke="#2b2b2b" stroke-width="1.15"/>
<text x="285.56" y="216.60" font-size="7.3" font-weight="bold" stroke="#1a1a1a" stroke-width="0.219" stroke-linejoin="round" text-anchor="middle" fill="#1a1a1a">16</text>
<line x1="297.50" y1="204.40" x2="297.50" y2="208.40" stroke="#2b2b2b" stroke-width="1.15"/>
<text x="297.28" y="216.60" font-size="7.3" font-weight="bold" stroke="#1a1a1a" stroke-width="0.219" stroke-linejoin="round" text-anchor="middle" fill="#1a1a1a">20</text>
<line x1="309.50" y1="204.40" x2="309.50" y2="208.40" stroke="#2b2b2b" stroke-width="1.15"/>
<text x="309.00" y="216.60" font-size="7.3" font-weight="bold" stroke="#1a1a1a" stroke-width="0.219" stroke-linejoin="round" text-anchor="middle" fill="#1a1a1a">24</text>
<line x1="320.50" y1="204.40" x2="320.50" y2="208.40" stroke="#2b2b2b" stroke-width="1.15"/>
<text x="320.72" y="216.60" font-size="7.3" font-weight="bold" stroke="#1a1a1a" stroke-width="0.219" stroke-linejoin="round" text-anchor="middle" fill="#1a1a1a">28</text>
<line x1="332.50" y1="204.40" x2="332.50" y2="208.40" stroke="#2b2b2b" stroke-width="1.15"/>
<text x="332.44" y="216.60" font-size="7.3" font-weight="bold" stroke="#1a1a1a" stroke-width="0.219" stroke-linejoin="round" text-anchor="middle" fill="#1a1a1a">32</text>
<line x1="344.50" y1="204.40" x2="344.50" y2="208.40" stroke="#2b2b2b" stroke-width="1.15"/>
<text x="344.16" y="216.60" font-size="7.3" font-weight="bold" stroke="#1a1a1a" stroke-width="0.219" stroke-linejoin="round" text-anchor="middle" fill="#1a1a1a">36</text>
<line x1="355.50" y1="204.40" x2="355.50" y2="208.40" stroke="#2b2b2b" stroke-width="1.15"/>
<text x="355.88" y="216.60" font-size="7.3" font-weight="bold" stroke="#1a1a1a" stroke-width="0.219" stroke-linejoin="round" text-anchor="middle" fill="#1a1a1a">40</text>
<line x1="367.50" y1="204.40" x2="367.50" y2="208.40" stroke="#2b2b2b" stroke-width="1.15"/>
<text x="367.60" y="216.60" font-size="7.3" font-weight="bold" stroke="#1a1a1a" stroke-width="0.219" stroke-linejoin="round" text-anchor="middle" fill="#1a1a1a">44</text>
<line x1="379.50" y1="204.40" x2="379.50" y2="208.40" stroke="#2b2b2b" stroke-width="1.15"/>
<text x="379.32" y="216.60" font-size="7.3" font-weight="bold" stroke="#1a1a1a" stroke-width="0.219" stroke-linejoin="round" text-anchor="middle" fill="#1a1a1a">48</text>
<text x="316.00" y="228.50" font-size="8.1" font-weight="bold" stroke="#1a1a1a" stroke-width="0.243" stroke-linejoin="round" text-anchor="middle" fill="#1a1a1a">Hour post infection</text>
<text x="221.10" y="157.00" font-size="6.65" font-weight="bold" stroke="#1a1a1a" stroke-width="0.200" stroke-linejoin="round" text-anchor="middle" fill="#1a1a1a" transform="rotate(-90 221.10 157.00)">FFU / mL</text>
<polyline points="250.40,204.40 262.12,204.40 273.84,204.40 309.00,204.40 332.44,204.40 379.32,204.40" fill="none" stroke="#7EDB2C" stroke-width="1.4" stroke-linejoin="round"/>
<polygon points="250.40,206.68 248.40,202.88 252.40,202.88" fill="#7EDB2C" stroke="#1c3010" stroke-width="0.65" stroke-linejoin="round"/>
<polygon points="262.12,206.68 260.12,202.88 264.12,202.88" fill="#7EDB2C" stroke="#1c3010" stroke-width="0.65" stroke-linejoin="round"/>
<polygon points="273.84,206.68 271.84,202.88 275.84,202.88" fill="#7EDB2C" stroke="#1c3010" stroke-width="0.65" stroke-linejoin="round"/>
<polygon points="309.00,206.68 307.00,202.88 311.00,202.88" fill="#7EDB2C" stroke="#1c3010" stroke-width="0.65" stroke-linejoin="round"/>
<polygon points="332.44,206.68 330.44,202.88 334.44,202.88" fill="#7EDB2C" stroke="#1c3010" stroke-width="0.65" stroke-linejoin="round"/>
<polygon points="379.32,206.68 377.32,202.88 381.32,202.88" fill="#7EDB2C" stroke="#1c3010" stroke-width="0.65" stroke-linejoin="round"/>
<polyline points="250.40,204.40 262.12,162.00 273.84,145.00 309.00,136.60 332.44,145.00 379.32,153.40" fill="none" stroke="#ED9C46" stroke-width="1.0" stroke-linejoin="round"/>
<line x1="262.12" y1="159.00" x2="262.12" y2="167.00" stroke="#ED9C46" stroke-width="0.8"/>
<line x1="260.22" y1="159.00" x2="264.02" y2="159.00" stroke="#ED9C46" stroke-width="0.8"/>
<line x1="260.22" y1="167.00" x2="264.02" y2="167.00" stroke="#ED9C46" stroke-width="0.8"/>
<line x1="273.84" y1="143.00" x2="273.84" y2="149.00" stroke="#ED9C46" stroke-width="0.8"/>
<line x1="271.94" y1="143.00" x2="275.74" y2="143.00" stroke="#ED9C46" stroke-width="0.8"/>
<line x1="271.94" y1="149.00" x2="275.74" y2="149.00" stroke="#ED9C46" stroke-width="0.8"/>
<line x1="309.00" y1="134.00" x2="309.00" y2="140.00" stroke="#ED9C46" stroke-width="0.8"/>
<line x1="307.10" y1="134.00" x2="310.90" y2="134.00" stroke="#ED9C46" stroke-width="0.8"/>
<line x1="307.10" y1="140.00" x2="310.90" y2="140.00" stroke="#ED9C46" stroke-width="0.8"/>
<line x1="332.44" y1="143.00" x2="332.44" y2="149.00" stroke="#ED9C46" stroke-width="0.8"/>
<line x1="330.54" y1="143.00" x2="334.34" y2="143.00" stroke="#ED9C46" stroke-width="0.8"/>
<line x1="330.54" y1="149.00" x2="334.34" y2="149.00" stroke="#ED9C46" stroke-width="0.8"/>
<line x1="379.32" y1="151.00" x2="379.32" y2="157.00" stroke="#ED9C46" stroke-width="0.8"/>
<line x1="377.42" y1="151.00" x2="381.22" y2="151.00" stroke="#ED9C46" stroke-width="0.8"/>
<line x1="377.42" y1="157.00" x2="381.22" y2="157.00" stroke="#ED9C46" stroke-width="0.8"/>
<circle cx="250.40" cy="204.40" r="1.95" fill="#ED9C46" stroke="#2e2216" stroke-width="0.65"/>
<circle cx="262.12" cy="162.00" r="1.95" fill="#ED9C46" stroke="#2e2216" stroke-width="0.65"/>
<circle cx="273.84" cy="145.00" r="1.95" fill="#ED9C46" stroke="#2e2216" stroke-width="0.65"/>
<circle cx="309.00" cy="136.60" r="1.95" fill="#ED9C46" stroke="#2e2216" stroke-width="0.65"/>
<circle cx="332.44" cy="145.00" r="1.95" fill="#ED9C46" stroke="#2e2216" stroke-width="0.65"/>
<circle cx="379.32" cy="153.40" r="1.95" fill="#ED9C46" stroke="#2e2216" stroke-width="0.65"/>
<polyline points="250.40,204.40 262.12,184.40 273.84,179.60 309.00,170.60 332.44,176.60 379.32,184.60" fill="none" stroke="#9B69D0" stroke-width="1.0" stroke-linejoin="round"/>
<line x1="273.84" y1="176.40" x2="273.84" y2="184.40" stroke="#9B69D0" stroke-width="0.8"/>
<line x1="271.94" y1="176.40" x2="275.74" y2="176.40" stroke="#9B69D0" stroke-width="0.8"/>
<line x1="271.94" y1="184.40" x2="275.74" y2="184.40" stroke="#9B69D0" stroke-width="0.8"/>
<line x1="309.00" y1="168.00" x2="309.00" y2="174.00" stroke="#9B69D0" stroke-width="0.8"/>
<line x1="307.10" y1="168.00" x2="310.90" y2="168.00" stroke="#9B69D0" stroke-width="0.8"/>
<line x1="307.10" y1="174.00" x2="310.90" y2="174.00" stroke="#9B69D0" stroke-width="0.8"/>
<polygon points="250.40,202.12 248.40,205.92 252.40,205.92" fill="#9B69D0" stroke="#24183a" stroke-width="0.65" stroke-linejoin="round"/>
<polygon points="262.12,182.12 260.12,185.92 264.12,185.92" fill="#9B69D0" stroke="#24183a" stroke-width="0.65" stroke-linejoin="round"/>
<polygon points="273.84,177.32 271.84,181.12 275.84,181.12" fill="#9B69D0" stroke="#24183a" stroke-width="0.65" stroke-linejoin="round"/>
<polygon points="309.00,168.32 307.00,172.12 311.00,172.12" fill="#9B69D0" stroke="#24183a" stroke-width="0.65" stroke-linejoin="round"/>
<polygon points="332.44,174.32 330.44,178.12 334.44,178.12" fill="#9B69D0" stroke="#24183a" stroke-width="0.65" stroke-linejoin="round"/>
<polygon points="379.32,182.32 377.32,186.12 381.32,186.12" fill="#9B69D0" stroke="#24183a" stroke-width="0.65" stroke-linejoin="round"/>
<text x="256.00" y="157.80" font-size="3.8" font-weight="bold" stroke="#222" stroke-width="0.114" stroke-linejoin="round" text-anchor="middle" fill="#222">p=0.0133</text>
<text x="273.50" y="140.40" font-size="3.8" font-weight="bold" stroke="#222" stroke-width="0.114" stroke-linejoin="round" text-anchor="middle" fill="#222">p=0.0098</text>
<text x="309.80" y="132.20" font-size="3.8" font-weight="bold" stroke="#222" stroke-width="0.114" stroke-linejoin="round" text-anchor="middle" fill="#222">p=0.0058</text>
<text x="333.70" y="140.80" font-size="3.8" font-weight="bold" stroke="#222" stroke-width="0.114" stroke-linejoin="round" text-anchor="middle" fill="#222">p=0.0085</text>
<text x="379.32" y="148.60" font-size="3.8" font-weight="bold" stroke="#222" stroke-width="0.114" stroke-linejoin="round" text-anchor="middle" fill="#222">p=0.0103</text>
<text x="506.30" y="104.00" font-size="9.3" font-weight="bold" stroke="#111" stroke-width="0.279" stroke-linejoin="round" text-anchor="middle" fill="#111">Total virus particles</text>
<line x1="434.40" y1="106.79" x2="434.40" y2="204.20" stroke="#2b2b2b" stroke-width="1.35"/>
<line x1="430.40" y1="107.50" x2="434.40" y2="107.50" stroke="#2b2b2b" stroke-width="1.15"/>
<text x="429.05" y="108.09" font-size="4.9" font-weight="bold" stroke="#1a1a1a" stroke-width="0.147" stroke-linejoin="round" text-anchor="end" fill="#1a1a1a">9</text>
<text x="425.88" y="110.14" font-size="7.3" font-weight="bold" stroke="#1a1a1a" stroke-width="0.219" stroke-linejoin="round" text-anchor="end" fill="#1a1a1a">2</text>
<line x1="430.40" y1="118.50" x2="434.40" y2="118.50" stroke="#2b2b2b" stroke-width="1.15"/>
<text x="429.05" y="118.78" font-size="4.9" font-weight="bold" stroke="#1a1a1a" stroke-width="0.147" stroke-linejoin="round" text-anchor="end" fill="#1a1a1a">8</text>
<text x="425.88" y="120.83" font-size="7.3" font-weight="bold" stroke="#1a1a1a" stroke-width="0.219" stroke-linejoin="round" text-anchor="end" fill="#1a1a1a">2</text>
<line x1="430.40" y1="128.50" x2="434.40" y2="128.50" stroke="#2b2b2b" stroke-width="1.15"/>
<text x="429.05" y="129.47" font-size="4.9" font-weight="bold" stroke="#1a1a1a" stroke-width="0.147" stroke-linejoin="round" text-anchor="end" fill="#1a1a1a">7</text>
<text x="425.88" y="131.52" font-size="7.3" font-weight="bold" stroke="#1a1a1a" stroke-width="0.219" stroke-linejoin="round" text-anchor="end" fill="#1a1a1a">2</text>
<line x1="430.40" y1="139.50" x2="434.40" y2="139.50" stroke="#2b2b2b" stroke-width="1.15"/>
<text x="429.05" y="140.16" font-size="4.9" font-weight="bold" stroke="#1a1a1a" stroke-width="0.147" stroke-linejoin="round" text-anchor="end" fill="#1a1a1a">6</text>
<text x="425.88" y="142.21" font-size="7.3" font-weight="bold" stroke="#1a1a1a" stroke-width="0.219" stroke-linejoin="round" text-anchor="end" fill="#1a1a1a">2</text>
<line x1="430.40" y1="150.50" x2="434.40" y2="150.50" stroke="#2b2b2b" stroke-width="1.15"/>
<text x="429.05" y="150.85" font-size="4.9" font-weight="bold" stroke="#1a1a1a" stroke-width="0.147" stroke-linejoin="round" text-anchor="end" fill="#1a1a1a">5</text>
<text x="425.88" y="152.90" font-size="7.3" font-weight="bold" stroke="#1a1a1a" stroke-width="0.219" stroke-linejoin="round" text-anchor="end" fill="#1a1a1a">2</text>
<line x1="430.40" y1="160.50" x2="434.40" y2="160.50" stroke="#2b2b2b" stroke-width="1.15"/>
<text x="429.05" y="161.54" font-size="4.9" font-weight="bold" stroke="#1a1a1a" stroke-width="0.147" stroke-linejoin="round" text-anchor="end" fill="#1a1a1a">4</text>
<text x="425.88" y="163.59" font-size="7.3" font-weight="bold" stroke="#1a1a1a" stroke-width="0.219" stroke-linejoin="round" text-anchor="end" fill="#1a1a1a">2</text>
<line x1="430.40" y1="171.50" x2="434.40" y2="171.50" stroke="#2b2b2b" stroke-width="1.15"/>
<text x="429.05" y="172.23" font-size="4.9" font-weight="bold" stroke="#1a1a1a" stroke-width="0.147" stroke-linejoin="round" text-anchor="end" fill="#1a1a1a">3</text>
<text x="425.88" y="174.28" font-size="7.3" font-weight="bold" stroke="#1a1a1a" stroke-width="0.219" stroke-linejoin="round" text-anchor="end" fill="#1a1a1a">2</text>
<line x1="430.40" y1="182.50" x2="434.40" y2="182.50" stroke="#2b2b2b" stroke-width="1.15"/>
<text x="429.05" y="182.92" font-size="4.9" font-weight="bold" stroke="#1a1a1a" stroke-width="0.147" stroke-linejoin="round" text-anchor="end" fill="#1a1a1a">2</text>
<text x="425.88" y="184.97" font-size="7.3" font-weight="bold" stroke="#1a1a1a" stroke-width="0.219" stroke-linejoin="round" text-anchor="end" fill="#1a1a1a">2</text>
<line x1="430.40" y1="192.50" x2="434.40" y2="192.50" stroke="#2b2b2b" stroke-width="1.15"/>
<text x="429.05" y="193.61" font-size="4.9" font-weight="bold" stroke="#1a1a1a" stroke-width="0.147" stroke-linejoin="round" text-anchor="end" fill="#1a1a1a">1</text>
<text x="425.88" y="195.66" font-size="7.3" font-weight="bold" stroke="#1a1a1a" stroke-width="0.219" stroke-linejoin="round" text-anchor="end" fill="#1a1a1a">2</text>
<line x1="430.40" y1="203.50" x2="434.40" y2="203.50" stroke="#2b2b2b" stroke-width="1.15"/>
<text x="429.05" y="204.30" font-size="4.9" font-weight="bold" stroke="#1a1a1a" stroke-width="0.147" stroke-linejoin="round" text-anchor="end" fill="#1a1a1a">0</text>
<text x="425.88" y="206.35" font-size="7.3" font-weight="bold" stroke="#1a1a1a" stroke-width="0.219" stroke-linejoin="round" text-anchor="end" fill="#1a1a1a">2</text>
<line x1="434.40" y1="203.60" x2="578.40" y2="203.60" stroke="#2b2b2b" stroke-width="1.35"/>
<line x1="441.50" y1="203.60" x2="441.50" y2="207.60" stroke="#2b2b2b" stroke-width="1.15"/>
<text x="441.60" y="215.80" font-size="7.3" font-weight="bold" stroke="#1a1a1a" stroke-width="0.219" stroke-linejoin="round" text-anchor="middle" fill="#1a1a1a">4</text>
<line x1="453.50" y1="203.60" x2="453.50" y2="207.60" stroke="#2b2b2b" stroke-width="1.15"/>
<text x="453.28" y="215.80" font-size="7.3" font-weight="bold" stroke="#1a1a1a" stroke-width="0.219" stroke-linejoin="round" text-anchor="middle" fill="#1a1a1a">8</text>
<line x1="464.50" y1="203.60" x2="464.50" y2="207.60" stroke="#2b2b2b" stroke-width="1.15"/>
<text x="464.96" y="215.80" font-size="7.3" font-weight="bold" stroke="#1a1a1a" stroke-width="0.219" stroke-linejoin="round" text-anchor="middle" fill="#1a1a1a">12</text>
<line x1="476.50" y1="203.60" x2="476.50" y2="207.60" stroke="#2b2b2b" stroke-width="1.15"/>
<text x="476.64" y="215.80" font-size="7.3" font-weight="bold" stroke="#1a1a1a" stroke-width="0.219" stroke-linejoin="round" text-anchor="middle" fill="#1a1a1a">16</text>
<line x1="488.50" y1="203.60" x2="488.50" y2="207.60" stroke="#2b2b2b" stroke-width="1.15"/>
<text x="488.32" y="215.80" font-size="7.3" font-weight="bold" stroke="#1a1a1a" stroke-width="0.219" stroke-linejoin="round" text-anchor="middle" fill="#1a1a1a">20</text>
<line x1="500.50" y1="203.60" x2="500.50" y2="207.60" stroke="#2b2b2b" stroke-width="1.15"/>
<text x="500.00" y="215.80" font-size="7.3" font-weight="bold" stroke="#1a1a1a" stroke-width="0.219" stroke-linejoin="round" text-anchor="middle" fill="#1a1a1a">24</text>
<line x1="511.50" y1="203.60" x2="511.50" y2="207.60" stroke="#2b2b2b" stroke-width="1.15"/>
<text x="511.68" y="215.80" font-size="7.3" font-weight="bold" stroke="#1a1a1a" stroke-width="0.219" stroke-linejoin="round" text-anchor="middle" fill="#1a1a1a">28</text>
<line x1="523.50" y1="203.60" x2="523.50" y2="207.60" stroke="#2b2b2b" stroke-width="1.15"/>
<text x="523.36" y="215.80" font-size="7.3" font-weight="bold" stroke="#1a1a1a" stroke-width="0.219" stroke-linejoin="round" text-anchor="middle" fill="#1a1a1a">32</text>
<line x1="535.50" y1="203.60" x2="535.50" y2="207.60" stroke="#2b2b2b" stroke-width="1.15"/>
<text x="535.04" y="215.80" font-size="7.3" font-weight="bold" stroke="#1a1a1a" stroke-width="0.219" stroke-linejoin="round" text-anchor="middle" fill="#1a1a1a">36</text>
<line x1="546.50" y1="203.60" x2="546.50" y2="207.60" stroke="#2b2b2b" stroke-width="1.15"/>
<text x="546.72" y="215.80" font-size="7.3" font-weight="bold" stroke="#1a1a1a" stroke-width="0.219" stroke-linejoin="round" text-anchor="middle" fill="#1a1a1a">40</text>
<line x1="558.50" y1="203.60" x2="558.50" y2="207.60" stroke="#2b2b2b" stroke-width="1.15"/>
<text x="558.40" y="215.80" font-size="7.3" font-weight="bold" stroke="#1a1a1a" stroke-width="0.219" stroke-linejoin="round" text-anchor="middle" fill="#1a1a1a">44</text>
<line x1="570.50" y1="203.60" x2="570.50" y2="207.60" stroke="#2b2b2b" stroke-width="1.15"/>
<text x="570.08" y="215.80" font-size="7.3" font-weight="bold" stroke="#1a1a1a" stroke-width="0.219" stroke-linejoin="round" text-anchor="middle" fill="#1a1a1a">48</text>
<text x="506.00" y="228.10" font-size="8.1" font-weight="bold" stroke="#1a1a1a" stroke-width="0.243" stroke-linejoin="round" text-anchor="middle" fill="#1a1a1a">Hour post infection</text>
<text x="416.20" y="154.10" font-size="6.8" font-weight="bold" stroke="#1a1a1a" stroke-width="0.204" stroke-linejoin="round" text-anchor="middle" fill="#1a1a1a" transform="rotate(-90 416.20 154.10)">HAU / 100 µL</text>
<polyline points="441.60,203.60 453.28,203.60 464.96,203.60 500.00,203.60 523.36,203.60 570.08,203.60" fill="none" stroke="#7EDB2C" stroke-width="1.4" stroke-linejoin="round"/>
<polygon points="441.60,205.88 439.60,202.08 443.60,202.08" fill="#7EDB2C" stroke="#1c3010" stroke-width="0.65" stroke-linejoin="round"/>
<polygon points="453.28,205.88 451.28,202.08 455.28,202.08" fill="#7EDB2C" stroke="#1c3010" stroke-width="0.65" stroke-linejoin="round"/>
<polygon points="464.96,205.88 462.96,202.08 466.96,202.08" fill="#7EDB2C" stroke="#1c3010" stroke-width="0.65" stroke-linejoin="round"/>
<polygon points="500.00,205.88 498.00,202.08 502.00,202.08" fill="#7EDB2C" stroke="#1c3010" stroke-width="0.65" stroke-linejoin="round"/>
<polygon points="523.36,205.88 521.36,202.08 525.36,202.08" fill="#7EDB2C" stroke="#1c3010" stroke-width="0.65" stroke-linejoin="round"/>
<polygon points="570.08,205.88 568.08,202.08 572.08,202.08" fill="#7EDB2C" stroke="#1c3010" stroke-width="0.65" stroke-linejoin="round"/>
<polyline points="441.60,203.60 453.28,203.60 464.96,203.60 500.00,203.60 523.36,174.00 570.08,155.00" fill="none" stroke="#9B69D0" stroke-width="1.0" stroke-linejoin="round"/>
<line x1="523.36" y1="169.60" x2="523.36" y2="178.60" stroke="#9B69D0" stroke-width="0.8"/>
<line x1="521.46" y1="169.60" x2="525.26" y2="169.60" stroke="#9B69D0" stroke-width="0.8"/>
<line x1="521.46" y1="178.60" x2="525.26" y2="178.60" stroke="#9B69D0" stroke-width="0.8"/>
<line x1="570.08" y1="149.60" x2="570.08" y2="162.40" stroke="#9B69D0" stroke-width="0.8"/>
<line x1="568.18" y1="149.60" x2="571.98" y2="149.60" stroke="#9B69D0" stroke-width="0.8"/>
<line x1="568.18" y1="162.40" x2="571.98" y2="162.40" stroke="#9B69D0" stroke-width="0.8"/>
<polygon points="441.60,201.32 439.60,205.12 443.60,205.12" fill="#9B69D0" stroke="#24183a" stroke-width="0.65" stroke-linejoin="round"/>
<polygon points="453.28,201.32 451.28,205.12 455.28,205.12" fill="#9B69D0" stroke="#24183a" stroke-width="0.65" stroke-linejoin="round"/>
<polygon points="464.96,201.32 462.96,205.12 466.96,205.12" fill="#9B69D0" stroke="#24183a" stroke-width="0.65" stroke-linejoin="round"/>
<polygon points="500.00,201.32 498.00,205.12 502.00,205.12" fill="#9B69D0" stroke="#24183a" stroke-width="0.65" stroke-linejoin="round"/>
<polygon points="523.36,171.72 521.36,175.52 525.36,175.52" fill="#9B69D0" stroke="#24183a" stroke-width="0.65" stroke-linejoin="round"/>
<polygon points="570.08,152.72 568.08,156.52 572.08,156.52" fill="#9B69D0" stroke="#24183a" stroke-width="0.65" stroke-linejoin="round"/>
<polyline points="441.60,203.60 453.28,203.60 464.96,203.60 500.00,176.00 523.36,138.00 570.08,122.60" fill="none" stroke="#ED9C46" stroke-width="1.0" stroke-linejoin="round"/>
<line x1="500.00" y1="171.00" x2="500.00" y2="183.60" stroke="#ED9C46" stroke-width="0.8"/>
<line x1="498.10" y1="171.00" x2="501.90" y2="171.00" stroke="#ED9C46" stroke-width="0.8"/>
<line x1="498.10" y1="183.60" x2="501.90" y2="183.60" stroke="#ED9C46" stroke-width="0.8"/>
<line x1="523.36" y1="131.00" x2="523.36" y2="150.00" stroke="#ED9C46" stroke-width="0.8"/>
<line x1="521.46" y1="131.00" x2="525.26" y2="131.00" stroke="#ED9C46" stroke-width="0.8"/>
<line x1="521.46" y1="150.00" x2="525.26" y2="150.00" stroke="#ED9C46" stroke-width="0.8"/>
<line x1="570.08" y1="117.60" x2="570.08" y2="130.60" stroke="#ED9C46" stroke-width="0.8"/>
<line x1="568.18" y1="117.60" x2="571.98" y2="117.60" stroke="#ED9C46" stroke-width="0.8"/>
<line x1="568.18" y1="130.60" x2="571.98" y2="130.60" stroke="#ED9C46" stroke-width="0.8"/>
<circle cx="441.60" cy="203.60" r="1.95" fill="#ED9C46" stroke="#2e2216" stroke-width="0.65"/>
<circle cx="453.28" cy="203.60" r="1.95" fill="#ED9C46" stroke="#2e2216" stroke-width="0.65"/>
<circle cx="464.96" cy="203.60" r="1.95" fill="#ED9C46" stroke="#2e2216" stroke-width="0.65"/>
<circle cx="500.00" cy="176.00" r="1.95" fill="#ED9C46" stroke="#2e2216" stroke-width="0.65"/>
<circle cx="523.36" cy="138.00" r="1.95" fill="#ED9C46" stroke="#2e2216" stroke-width="0.65"/>
<circle cx="570.08" cy="122.60" r="1.95" fill="#ED9C46" stroke="#2e2216" stroke-width="0.65"/>
<text x="496.50" y="169.00" font-size="3.8" font-weight="bold" stroke="#222" stroke-width="0.114" stroke-linejoin="round" text-anchor="middle" fill="#222">p=0.0138</text>
<text x="523.36" y="127.50" font-size="3.8" font-weight="bold" stroke="#222" stroke-width="0.114" stroke-linejoin="round" text-anchor="middle" fill="#222">p=0.018</text>
<text x="570.08" y="115.00" font-size="3.8" font-weight="bold" stroke="#222" stroke-width="0.114" stroke-linejoin="round" text-anchor="middle" fill="#222">p=0.019</text>
<line x1="583.30" y1="114.00" x2="593.80" y2="114.00" stroke="#ED9C46" stroke-width="1.0" opacity="0.55"/>
<circle cx="588.60" cy="114.00" r="1.72" fill="#ED9C46" stroke="#2e2216" stroke-width="0.65"/>
<text x="599.40" y="116.90" font-size="7.95" stroke="#222" stroke-width="0.095" stroke-linejoin="round" text-anchor="start" fill="#222">Low DIPs</text>
<line x1="583.30" y1="126.75" x2="593.80" y2="126.75" stroke="#9B69D0" stroke-width="1.0" opacity="0.55"/>
<polygon points="588.60,124.74 586.84,128.09 590.36,128.09" fill="#9B69D0" stroke="#24183a" stroke-width="0.65" stroke-linejoin="round"/>
<text x="599.40" y="129.65" font-size="7.95" stroke="#222" stroke-width="0.095" stroke-linejoin="round" text-anchor="start" fill="#222">High DIPs (same STV)</text>
<line x1="583.30" y1="139.50" x2="593.80" y2="139.50" stroke="#7EDB2C" stroke-width="1.0" opacity="0.55"/>
<polygon points="588.60,141.51 586.84,138.16 590.36,138.16" fill="#7EDB2C" stroke="#1c3010" stroke-width="0.65" stroke-linejoin="round"/>
<text x="599.40" y="142.40" font-size="7.95" stroke="#222" stroke-width="0.095" stroke-linejoin="round" text-anchor="start" fill="#222">High DIPs (same Total)</text>
<text x="0.60" y="248.70" font-size="14.8" font-weight="bold" stroke="#000" stroke-width="0.300" stroke-linejoin="round" text-anchor="start" fill="#000">c</text>
<text x="120.70" y="254.90" font-size="9.5" font-weight="bold" stroke="#111" stroke-width="0.285" stroke-linejoin="round" text-anchor="middle" fill="#111">Turbinate</text>
<line x1="46.30" y1="258.18" x2="46.30" y2="357.70" stroke="#2b2b2b" stroke-width="1.35"/>
<line x1="42.30" y1="258.50" x2="46.30" y2="258.50" stroke="#2b2b2b" stroke-width="1.15"/>
<text x="40.95" y="259.48" font-size="4.9" font-weight="bold" stroke="#1a1a1a" stroke-width="0.147" stroke-linejoin="round" text-anchor="end" fill="#1a1a1a">4</text>
<text x="37.78" y="261.53" font-size="7.3" font-weight="bold" stroke="#1a1a1a" stroke-width="0.219" stroke-linejoin="round" text-anchor="end" fill="#1a1a1a">10</text>
<line x1="42.30" y1="283.50" x2="46.30" y2="283.50" stroke="#2b2b2b" stroke-width="1.15"/>
<text x="40.95" y="284.06" font-size="4.9" font-weight="bold" stroke="#1a1a1a" stroke-width="0.147" stroke-linejoin="round" text-anchor="end" fill="#1a1a1a">3</text>
<text x="37.78" y="286.11" font-size="7.3" font-weight="bold" stroke="#1a1a1a" stroke-width="0.219" stroke-linejoin="round" text-anchor="end" fill="#1a1a1a">10</text>
<line x1="42.30" y1="307.50" x2="46.30" y2="307.50" stroke="#2b2b2b" stroke-width="1.15"/>
<text x="40.95" y="308.64" font-size="4.9" font-weight="bold" stroke="#1a1a1a" stroke-width="0.147" stroke-linejoin="round" text-anchor="end" fill="#1a1a1a">2</text>
<text x="37.78" y="310.69" font-size="7.3" font-weight="bold" stroke="#1a1a1a" stroke-width="0.219" stroke-linejoin="round" text-anchor="end" fill="#1a1a1a">10</text>
<line x1="42.30" y1="332.50" x2="46.30" y2="332.50" stroke="#2b2b2b" stroke-width="1.15"/>
<text x="40.95" y="333.22" font-size="4.9" font-weight="bold" stroke="#1a1a1a" stroke-width="0.147" stroke-linejoin="round" text-anchor="end" fill="#1a1a1a">1</text>
<text x="37.78" y="335.27" font-size="7.3" font-weight="bold" stroke="#1a1a1a" stroke-width="0.219" stroke-linejoin="round" text-anchor="end" fill="#1a1a1a">10</text>
<line x1="42.30" y1="357.50" x2="46.30" y2="357.50" stroke="#2b2b2b" stroke-width="1.15"/>
<text x="40.95" y="357.80" font-size="4.9" font-weight="bold" stroke="#1a1a1a" stroke-width="0.147" stroke-linejoin="round" text-anchor="end" fill="#1a1a1a">0</text>
<text x="37.78" y="359.85" font-size="7.3" font-weight="bold" stroke="#1a1a1a" stroke-width="0.219" stroke-linejoin="round" text-anchor="end" fill="#1a1a1a">10</text>
<text x="315.60" y="257.90" font-size="9.5" font-weight="bold" stroke="#111" stroke-width="0.285" stroke-linejoin="round" text-anchor="middle" fill="#111">Lung</text>
<line x1="242.40" y1="258.18" x2="242.40" y2="357.70" stroke="#2b2b2b" stroke-width="1.35"/>
<line x1="238.40" y1="258.50" x2="242.40" y2="258.50" stroke="#2b2b2b" stroke-width="1.15"/>
<text x="237.05" y="259.48" font-size="4.9" font-weight="bold" stroke="#1a1a1a" stroke-width="0.147" stroke-linejoin="round" text-anchor="end" fill="#1a1a1a">4</text>
<text x="233.88" y="261.53" font-size="7.3" font-weight="bold" stroke="#1a1a1a" stroke-width="0.219" stroke-linejoin="round" text-anchor="end" fill="#1a1a1a">10</text>
<line x1="238.40" y1="283.50" x2="242.40" y2="283.50" stroke="#2b2b2b" stroke-width="1.15"/>
<text x="237.05" y="284.06" font-size="4.9" font-weight="bold" stroke="#1a1a1a" stroke-width="0.147" stroke-linejoin="round" text-anchor="end" fill="#1a1a1a">3</text>
<text x="233.88" y="286.11" font-size="7.3" font-weight="bold" stroke="#1a1a1a" stroke-width="0.219" stroke-linejoin="round" text-anchor="end" fill="#1a1a1a">10</text>
<line x1="238.40" y1="307.50" x2="242.40" y2="307.50" stroke="#2b2b2b" stroke-width="1.15"/>
<text x="237.05" y="308.64" font-size="4.9" font-weight="bold" stroke="#1a1a1a" stroke-width="0.147" stroke-linejoin="round" text-anchor="end" fill="#1a1a1a">2</text>
<text x="233.88" y="310.69" font-size="7.3" font-weight="bold" stroke="#1a1a1a" stroke-width="0.219" stroke-linejoin="round" text-anchor="end" fill="#1a1a1a">10</text>
<line x1="238.40" y1="332.50" x2="242.40" y2="332.50" stroke="#2b2b2b" stroke-width="1.15"/>
<text x="237.05" y="333.22" font-size="4.9" font-weight="bold" stroke="#1a1a1a" stroke-width="0.147" stroke-linejoin="round" text-anchor="end" fill="#1a1a1a">1</text>
<text x="233.88" y="335.27" font-size="7.3" font-weight="bold" stroke="#1a1a1a" stroke-width="0.219" stroke-linejoin="round" text-anchor="end" fill="#1a1a1a">10</text>
<line x1="238.40" y1="357.50" x2="242.40" y2="357.50" stroke="#2b2b2b" stroke-width="1.15"/>
<text x="237.05" y="357.80" font-size="4.9" font-weight="bold" stroke="#1a1a1a" stroke-width="0.147" stroke-linejoin="round" text-anchor="end" fill="#1a1a1a">0</text>
<text x="233.88" y="359.85" font-size="7.3" font-weight="bold" stroke="#1a1a1a" stroke-width="0.219" stroke-linejoin="round" text-anchor="end" fill="#1a1a1a">10</text>
<line x1="42.30" y1="357.10" x2="193.60" y2="357.10" stroke="#2b2b2b" stroke-width="1.35"/>
<line x1="238.40" y1="357.10" x2="390.40" y2="357.10" stroke="#2b2b2b" stroke-width="1.35"/>
<line x1="59.60" y1="357.10" x2="59.60" y2="361.40" stroke="#2b2b2b" stroke-width="1.0"/>
<text x="59.60" y="368.90" font-size="6.8" font-weight="bold" stroke="#1a1a1a" stroke-width="0.204" stroke-linejoin="round" text-anchor="middle" fill="#1a1a1a">1</text>
<line x1="256.40" y1="357.10" x2="256.40" y2="361.40" stroke="#2b2b2b" stroke-width="1.0"/>
<text x="256.40" y="368.90" font-size="6.8" font-weight="bold" stroke="#1a1a1a" stroke-width="0.204" stroke-linejoin="round" text-anchor="middle" fill="#1a1a1a">1</text>
<line x1="79.60" y1="357.10" x2="79.60" y2="361.40" stroke="#2b2b2b" stroke-width="1.0"/>
<text x="79.60" y="368.90" font-size="6.8" font-weight="bold" stroke="#1a1a1a" stroke-width="0.204" stroke-linejoin="round" text-anchor="middle" fill="#1a1a1a">3</text>
<line x1="276.40" y1="357.10" x2="276.40" y2="361.40" stroke="#2b2b2b" stroke-width="1.0"/>
<text x="276.40" y="368.90" font-size="6.8" font-weight="bold" stroke="#1a1a1a" stroke-width="0.204" stroke-linejoin="round" text-anchor="middle" fill="#1a1a1a">3</text>
<line x1="99.60" y1="357.10" x2="99.60" y2="361.40" stroke="#2b2b2b" stroke-width="1.0"/>
<text x="99.60" y="368.90" font-size="6.8" font-weight="bold" stroke="#1a1a1a" stroke-width="0.204" stroke-linejoin="round" text-anchor="middle" fill="#1a1a1a">5</text>
<line x1="296.40" y1="357.10" x2="296.40" y2="361.40" stroke="#2b2b2b" stroke-width="1.0"/>
<text x="296.40" y="368.90" font-size="6.8" font-weight="bold" stroke="#1a1a1a" stroke-width="0.204" stroke-linejoin="round" text-anchor="middle" fill="#1a1a1a">5</text>
<line x1="119.60" y1="357.10" x2="119.60" y2="361.40" stroke="#2b2b2b" stroke-width="1.0"/>
<text x="119.60" y="368.90" font-size="6.8" font-weight="bold" stroke="#1a1a1a" stroke-width="0.204" stroke-linejoin="round" text-anchor="middle" fill="#1a1a1a">7</text>
<line x1="316.40" y1="357.10" x2="316.40" y2="361.40" stroke="#2b2b2b" stroke-width="1.0"/>
<text x="316.40" y="368.90" font-size="6.8" font-weight="bold" stroke="#1a1a1a" stroke-width="0.204" stroke-linejoin="round" text-anchor="middle" fill="#1a1a1a">7</text>
<line x1="139.60" y1="357.10" x2="139.60" y2="361.40" stroke="#2b2b2b" stroke-width="1.0"/>
<text x="139.60" y="368.90" font-size="6.8" font-weight="bold" stroke="#1a1a1a" stroke-width="0.204" stroke-linejoin="round" text-anchor="middle" fill="#1a1a1a">9</text>
<line x1="336.40" y1="357.10" x2="336.40" y2="361.40" stroke="#2b2b2b" stroke-width="1.0"/>
<text x="336.40" y="368.90" font-size="6.8" font-weight="bold" stroke="#1a1a1a" stroke-width="0.204" stroke-linejoin="round" text-anchor="middle" fill="#1a1a1a">9</text>
<line x1="159.60" y1="357.10" x2="159.60" y2="361.40" stroke="#2b2b2b" stroke-width="1.0"/>
<text x="159.60" y="368.90" font-size="6.8" font-weight="bold" stroke="#1a1a1a" stroke-width="0.204" stroke-linejoin="round" text-anchor="middle" fill="#1a1a1a">11</text>
<line x1="356.40" y1="357.10" x2="356.40" y2="361.40" stroke="#2b2b2b" stroke-width="1.0"/>
<text x="356.40" y="368.90" font-size="6.8" font-weight="bold" stroke="#1a1a1a" stroke-width="0.204" stroke-linejoin="round" text-anchor="middle" fill="#1a1a1a">11</text>
<line x1="179.60" y1="357.10" x2="179.60" y2="361.40" stroke="#2b2b2b" stroke-width="1.0"/>
<text x="179.60" y="368.90" font-size="6.8" font-weight="bold" stroke="#1a1a1a" stroke-width="0.204" stroke-linejoin="round" text-anchor="middle" fill="#1a1a1a">13</text>
<line x1="376.40" y1="357.10" x2="376.40" y2="361.40" stroke="#2b2b2b" stroke-width="1.0"/>
<text x="376.40" y="368.90" font-size="6.8" font-weight="bold" stroke="#1a1a1a" stroke-width="0.204" stroke-linejoin="round" text-anchor="middle" fill="#1a1a1a">13</text>
<text x="120.30" y="381.70" font-size="8.1" font-weight="bold" stroke="#1a1a1a" stroke-width="0.243" stroke-linejoin="round" text-anchor="middle" fill="#1a1a1a">Day post infection</text>
<text x="317.40" y="381.60" font-size="8.1" font-weight="bold" stroke="#1a1a1a" stroke-width="0.243" stroke-linejoin="round" text-anchor="middle" fill="#1a1a1a">Day post infection</text>
<text x="23.80" y="309.20" font-size="6.8" font-weight="bold" stroke="#1a1a1a" stroke-width="0.204" stroke-linejoin="round" text-anchor="middle" fill="#1a1a1a" transform="rotate(-90 23.80 309.20)">Relative NP RNA expression</text>
<text x="221.10" y="307.20" font-size="6.8" font-weight="bold" stroke="#1a1a1a" stroke-width="0.204" stroke-linejoin="round" text-anchor="middle" fill="#1a1a1a" transform="rotate(-90 221.10 307.20)">Relative NP RNA expression</text>
<polyline points="59.60,357.10 79.60,357.10 99.60,357.10 119.60,357.10 139.60,357.10 159.60,357.10 179.60,357.10" fill="none" stroke="#c4c4c4" stroke-width="1.3" stroke-linejoin="round"/>
<rect x="57.53" y="355.03" width="4.14" height="4.14" fill="#999999" stroke="#333" stroke-width="0.65"/>
<rect x="77.53" y="355.03" width="4.14" height="4.14" fill="#999999" stroke="#333" stroke-width="0.65"/>
<rect x="97.53" y="355.03" width="4.14" height="4.14" fill="#999999" stroke="#333" stroke-width="0.65"/>
<rect x="117.53" y="355.03" width="4.14" height="4.14" fill="#999999" stroke="#333" stroke-width="0.65"/>
<rect x="137.53" y="355.03" width="4.14" height="4.14" fill="#999999" stroke="#333" stroke-width="0.65"/>
<rect x="157.53" y="355.03" width="4.14" height="4.14" fill="#999999" stroke="#333" stroke-width="0.65"/>
<rect x="177.53" y="355.03" width="4.14" height="4.14" fill="#999999" stroke="#333" stroke-width="0.65"/>
<polyline points="59.60,272.50 79.60,301.00 99.60,314.70 119.60,345.70 139.60,353.30 159.60,357.10 179.60,357.40" fill="none" stroke="#9B69D0" stroke-width="1.0" stroke-linejoin="round"/>
<line x1="59.60" y1="267.60" x2="59.60" y2="281.20" stroke="#9B69D0" stroke-width="0.8"/>
<line x1="57.30" y1="267.60" x2="61.90" y2="267.60" stroke="#9B69D0" stroke-width="0.8"/>
<line x1="57.30" y1="281.20" x2="61.90" y2="281.20" stroke="#9B69D0" stroke-width="0.8"/>
<line x1="79.60" y1="298.00" x2="79.60" y2="303.50" stroke="#9B69D0" stroke-width="0.8"/>
<line x1="77.30" y1="298.00" x2="81.90" y2="298.00" stroke="#9B69D0" stroke-width="0.8"/>
<line x1="77.30" y1="303.50" x2="81.90" y2="303.50" stroke="#9B69D0" stroke-width="0.8"/>
<line x1="99.60" y1="309.10" x2="99.60" y2="323.30" stroke="#9B69D0" stroke-width="0.8"/>
<line x1="97.30" y1="309.10" x2="101.90" y2="309.10" stroke="#9B69D0" stroke-width="0.8"/>
<line x1="97.30" y1="323.30" x2="101.90" y2="323.30" stroke="#9B69D0" stroke-width="0.8"/>
<line x1="119.60" y1="342.80" x2="119.60" y2="349.80" stroke="#9B69D0" stroke-width="0.8"/>
<line x1="117.30" y1="342.80" x2="121.90" y2="342.80" stroke="#9B69D0" stroke-width="0.8"/>
<line x1="117.30" y1="349.80" x2="121.90" y2="349.80" stroke="#9B69D0" stroke-width="0.8"/>
<polygon points="59.60,269.95 57.36,274.20 61.84,274.20" fill="#9B69D0" stroke="#24183a" stroke-width="0.65" stroke-linejoin="round"/>
<polygon points="79.60,298.45 77.36,302.70 81.84,302.70" fill="#9B69D0" stroke="#24183a" stroke-width="0.65" stroke-linejoin="round"/>
<polygon points="99.60,312.15 97.36,316.40 101.84,316.40" fill="#9B69D0" stroke="#24183a" stroke-width="0.65" stroke-linejoin="round"/>
<polygon points="119.60,343.15 117.36,347.40 121.84,347.40" fill="#9B69D0" stroke="#24183a" stroke-width="0.65" stroke-linejoin="round"/>
<polygon points="139.60,350.75 137.36,355.00 141.84,355.00" fill="#9B69D0" stroke="#24183a" stroke-width="0.65" stroke-linejoin="round"/>
<polygon points="159.60,354.55 157.36,358.80 161.84,358.80" fill="#9B69D0" stroke="#24183a" stroke-width="0.65" stroke-linejoin="round"/>
<polygon points="179.60,354.85 177.36,359.10 181.84,359.10" fill="#9B69D0" stroke="#24183a" stroke-width="0.65" stroke-linejoin="round"/>
<polyline points="59.60,300.90 79.60,294.80 99.60,298.20 119.60,338.50 139.60,350.10 159.60,355.00 179.60,357.40" fill="none" stroke="#ED9C46" stroke-width="1.0" stroke-linejoin="round"/>
<line x1="59.60" y1="297.50" x2="59.60" y2="306.00" stroke="#ED9C46" stroke-width="0.8"/>
<line x1="57.30" y1="297.50" x2="61.90" y2="297.50" stroke="#ED9C46" stroke-width="0.8"/>
<line x1="57.30" y1="306.00" x2="61.90" y2="306.00" stroke="#ED9C46" stroke-width="0.8"/>
<line x1="79.60" y1="291.70" x2="79.60" y2="299.20" stroke="#ED9C46" stroke-width="0.8"/>
<line x1="77.30" y1="291.70" x2="81.90" y2="291.70" stroke="#ED9C46" stroke-width="0.8"/>
<line x1="77.30" y1="299.20" x2="81.90" y2="299.20" stroke="#ED9C46" stroke-width="0.8"/>
<line x1="99.60" y1="294.50" x2="99.60" y2="304.10" stroke="#ED9C46" stroke-width="0.8"/>
<line x1="97.30" y1="294.50" x2="101.90" y2="294.50" stroke="#ED9C46" stroke-width="0.8"/>
<line x1="97.30" y1="304.10" x2="101.90" y2="304.10" stroke="#ED9C46" stroke-width="0.8"/>
<line x1="119.60" y1="334.20" x2="119.60" y2="343.00" stroke="#ED9C46" stroke-width="0.8"/>
<line x1="117.30" y1="334.20" x2="121.90" y2="334.20" stroke="#ED9C46" stroke-width="0.8"/>
<line x1="117.30" y1="343.00" x2="121.90" y2="343.00" stroke="#ED9C46" stroke-width="0.8"/>
<line x1="139.60" y1="347.40" x2="139.60" y2="353.00" stroke="#ED9C46" stroke-width="0.8"/>
<line x1="137.30" y1="347.40" x2="141.90" y2="347.40" stroke="#ED9C46" stroke-width="0.8"/>
<line x1="137.30" y1="353.00" x2="141.90" y2="353.00" stroke="#ED9C46" stroke-width="0.8"/>
<line x1="159.60" y1="350.60" x2="159.60" y2="357.00" stroke="#ED9C46" stroke-width="0.8"/>
<line x1="157.30" y1="350.60" x2="161.90" y2="350.60" stroke="#ED9C46" stroke-width="0.8"/>
<line x1="157.30" y1="357.00" x2="161.90" y2="357.00" stroke="#ED9C46" stroke-width="0.8"/>
<circle cx="59.60" cy="300.90" r="2.18" fill="#ED9C46" stroke="#2e2216" stroke-width="0.65"/>
<circle cx="79.60" cy="294.80" r="2.18" fill="#ED9C46" stroke="#2e2216" stroke-width="0.65"/>
<circle cx="99.60" cy="298.20" r="2.18" fill="#ED9C46" stroke="#2e2216" stroke-width="0.65"/>
<circle cx="119.60" cy="338.50" r="2.18" fill="#ED9C46" stroke="#2e2216" stroke-width="0.65"/>
<circle cx="139.60" cy="350.10" r="2.18" fill="#ED9C46" stroke="#2e2216" stroke-width="0.65"/>
<circle cx="159.60" cy="355.00" r="2.18" fill="#ED9C46" stroke="#2e2216" stroke-width="0.65"/>
<circle cx="179.60" cy="357.40" r="2.18" fill="#ED9C46" stroke="#2e2216" stroke-width="0.65"/>
<text x="59.50" y="295.50" font-size="3.8" font-weight="bold" stroke="#222" stroke-width="0.114" stroke-linejoin="round" text-anchor="middle" fill="#222">p=0.0491</text>
<text x="81.50" y="289.00" font-size="3.8" font-weight="bold" stroke="#222" stroke-width="0.114" stroke-linejoin="round" text-anchor="middle" fill="#222">p=0.1390</text>
<text x="100.50" y="292.00" font-size="3.8" font-weight="bold" stroke="#222" stroke-width="0.114" stroke-linejoin="round" text-anchor="middle" fill="#222">p=0.0370</text>
<text x="126.00" y="331.70" font-size="3.8" font-weight="bold" stroke="#222" stroke-width="0.114" stroke-linejoin="round" text-anchor="middle" fill="#222">p=0.2037</text>
<text x="140.60" y="344.80" font-size="3.8" font-weight="bold" stroke="#222" stroke-width="0.114" stroke-linejoin="round" text-anchor="middle" fill="#222">p=0.3722</text>
<text x="160.00" y="348.60" font-size="3.8" font-weight="bold" stroke="#222" stroke-width="0.114" stroke-linejoin="round" text-anchor="middle" fill="#222">p=0.4285</text>
<text x="179.80" y="352.50" font-size="3.8" font-weight="bold" stroke="#222" stroke-width="0.114" stroke-linejoin="round" text-anchor="middle" fill="#222">p=0.8181</text>
<polyline points="256.40,357.10 276.40,357.10 296.40,357.10 316.40,357.10 336.40,357.10 356.40,357.10 376.40,357.10" fill="none" stroke="#c4c4c4" stroke-width="1.3" stroke-linejoin="round"/>
<rect x="254.33" y="355.03" width="4.14" height="4.14" fill="#999999" stroke="#333" stroke-width="0.65"/>
<rect x="274.33" y="355.03" width="4.14" height="4.14" fill="#999999" stroke="#333" stroke-width="0.65"/>
<rect x="294.33" y="355.03" width="4.14" height="4.14" fill="#999999" stroke="#333" stroke-width="0.65"/>
<rect x="314.33" y="355.03" width="4.14" height="4.14" fill="#999999" stroke="#333" stroke-width="0.65"/>
<rect x="334.33" y="355.03" width="4.14" height="4.14" fill="#999999" stroke="#333" stroke-width="0.65"/>
<rect x="354.33" y="355.03" width="4.14" height="4.14" fill="#999999" stroke="#333" stroke-width="0.65"/>
<rect x="374.33" y="355.03" width="4.14" height="4.14" fill="#999999" stroke="#333" stroke-width="0.65"/>
<polyline points="256.40,357.10 276.40,357.10 296.40,357.10 316.40,357.10 336.40,357.10 356.40,357.10 376.40,357.10" fill="none" stroke="#9B69D0" stroke-width="1.0" stroke-linejoin="round"/>
<polygon points="256.40,354.55 254.16,358.80 258.64,358.80" fill="#9B69D0" stroke="#24183a" stroke-width="0.65" stroke-linejoin="round"/>
<polygon points="276.40,354.55 274.16,358.80 278.64,358.80" fill="#9B69D0" stroke="#24183a" stroke-width="0.65" stroke-linejoin="round"/>
<polygon points="296.40,354.55 294.16,358.80 298.64,358.80" fill="#9B69D0" stroke="#24183a" stroke-width="0.65" stroke-linejoin="round"/>
<polygon points="316.40,354.55 314.16,358.80 318.64,358.80" fill="#9B69D0" stroke="#24183a" stroke-width="0.65" stroke-linejoin="round"/>
<polygon points="336.40,354.55 334.16,358.80 338.64,358.80" fill="#9B69D0" stroke="#24183a" stroke-width="0.65" stroke-linejoin="round"/>
<polygon points="356.40,354.55 354.16,358.80 358.64,358.80" fill="#9B69D0" stroke="#24183a" stroke-width="0.65" stroke-linejoin="round"/>
<polygon points="376.40,354.55 374.16,358.80 378.64,358.80" fill="#9B69D0" stroke="#24183a" stroke-width="0.65" stroke-linejoin="round"/>
<polyline points="256.40,357.10 276.40,357.10 296.40,357.10 316.40,357.10 336.40,357.10 356.40,357.10 376.40,357.10" fill="none" stroke="#ED9C46" stroke-width="1.5" stroke-linejoin="round"/>
<line x1="256.40" y1="353.20" x2="256.40" y2="357.00" stroke="#ED9C46" stroke-width="0.8"/>
<line x1="254.10" y1="353.20" x2="258.70" y2="353.20" stroke="#ED9C46" stroke-width="0.8"/>
<line x1="254.10" y1="357.00" x2="258.70" y2="357.00" stroke="#ED9C46" stroke-width="0.8"/>
<line x1="296.40" y1="353.20" x2="296.40" y2="357.00" stroke="#ED9C46" stroke-width="0.8"/>
<line x1="294.10" y1="353.20" x2="298.70" y2="353.20" stroke="#ED9C46" stroke-width="0.8"/>
<line x1="294.10" y1="357.00" x2="298.70" y2="357.00" stroke="#ED9C46" stroke-width="0.8"/>
<circle cx="256.40" cy="357.10" r="2.18" fill="#ED9C46" stroke="#2e2216" stroke-width="0.65"/>
<circle cx="276.40" cy="357.10" r="2.18" fill="#ED9C46" stroke="#2e2216" stroke-width="0.65"/>
<circle cx="296.40" cy="357.10" r="2.18" fill="#ED9C46" stroke="#2e2216" stroke-width="0.65"/>
<circle cx="316.40" cy="357.10" r="2.18" fill="#ED9C46" stroke="#2e2216" stroke-width="0.65"/>
<circle cx="336.40" cy="357.10" r="2.18" fill="#ED9C46" stroke="#2e2216" stroke-width="0.65"/>
<circle cx="356.40" cy="357.10" r="2.18" fill="#ED9C46" stroke="#2e2216" stroke-width="0.65"/>
<circle cx="376.40" cy="357.10" r="2.18" fill="#ED9C46" stroke="#2e2216" stroke-width="0.65"/>
<text x="391.60" y="245.60" font-size="14.8" font-weight="bold" stroke="#000" stroke-width="0.300" stroke-linejoin="round" text-anchor="start" fill="#000">d</text>
<line x1="435.50" y1="255.30" x2="435.50" y2="354.60" stroke="#2b2b2b" stroke-width="1.35"/>
<line x1="431.70" y1="255.50" x2="435.50" y2="255.50" stroke="#2b2b2b" stroke-width="1.15"/>
<text x="430.70" y="258.50" font-size="6.6" font-weight="bold" stroke="#1a1a1a" stroke-width="0.198" stroke-linejoin="round" text-anchor="end" fill="#1a1a1a">120</text>
<line x1="431.70" y1="288.50" x2="435.50" y2="288.50" stroke="#2b2b2b" stroke-width="1.15"/>
<text x="430.70" y="291.20" font-size="6.6" font-weight="bold" stroke="#1a1a1a" stroke-width="0.198" stroke-linejoin="round" text-anchor="end" fill="#1a1a1a">110</text>
<line x1="431.70" y1="321.50" x2="435.50" y2="321.50" stroke="#2b2b2b" stroke-width="1.15"/>
<text x="430.70" y="323.90" font-size="6.6" font-weight="bold" stroke="#1a1a1a" stroke-width="0.198" stroke-linejoin="round" text-anchor="end" fill="#1a1a1a">100</text>
<line x1="431.70" y1="354.50" x2="435.50" y2="354.50" stroke="#2b2b2b" stroke-width="1.15"/>
<text x="430.70" y="356.60" font-size="6.6" font-weight="bold" stroke="#1a1a1a" stroke-width="0.198" stroke-linejoin="round" text-anchor="end" fill="#1a1a1a">90</text>
<line x1="434.90" y1="354.00" x2="583.00" y2="354.00" stroke="#2b2b2b" stroke-width="1.35"/>
<line x1="447.50" y1="354.00" x2="447.50" y2="357.60" stroke="#2b2b2b" stroke-width="1.15"/>
<text x="447.20" y="366.30" font-size="6.8" font-weight="bold" stroke="#1a1a1a" stroke-width="0.204" stroke-linejoin="round" text-anchor="middle" fill="#1a1a1a">0</text>
<line x1="464.50" y1="354.00" x2="464.50" y2="357.60" stroke="#2b2b2b" stroke-width="1.15"/>
<text x="464.80" y="366.30" font-size="6.8" font-weight="bold" stroke="#1a1a1a" stroke-width="0.204" stroke-linejoin="round" text-anchor="middle" fill="#1a1a1a">1</text>
<line x1="482.50" y1="354.00" x2="482.50" y2="357.60" stroke="#2b2b2b" stroke-width="1.15"/>
<text x="482.40" y="366.30" font-size="6.8" font-weight="bold" stroke="#1a1a1a" stroke-width="0.204" stroke-linejoin="round" text-anchor="middle" fill="#1a1a1a">3</text>
<line x1="500.50" y1="354.00" x2="500.50" y2="357.60" stroke="#2b2b2b" stroke-width="1.15"/>
<text x="500.00" y="366.30" font-size="6.8" font-weight="bold" stroke="#1a1a1a" stroke-width="0.204" stroke-linejoin="round" text-anchor="middle" fill="#1a1a1a">5</text>
<line x1="517.50" y1="354.00" x2="517.50" y2="357.60" stroke="#2b2b2b" stroke-width="1.15"/>
<text x="517.60" y="366.30" font-size="6.8" font-weight="bold" stroke="#1a1a1a" stroke-width="0.204" stroke-linejoin="round" text-anchor="middle" fill="#1a1a1a">7</text>
<line x1="535.50" y1="354.00" x2="535.50" y2="357.60" stroke="#2b2b2b" stroke-width="1.15"/>
<text x="535.20" y="366.30" font-size="6.8" font-weight="bold" stroke="#1a1a1a" stroke-width="0.204" stroke-linejoin="round" text-anchor="middle" fill="#1a1a1a">9</text>
<line x1="552.50" y1="354.00" x2="552.50" y2="357.60" stroke="#2b2b2b" stroke-width="1.15"/>
<text x="552.80" y="366.30" font-size="6.8" font-weight="bold" stroke="#1a1a1a" stroke-width="0.204" stroke-linejoin="round" text-anchor="middle" fill="#1a1a1a">11</text>
<line x1="570.50" y1="354.00" x2="570.50" y2="357.60" stroke="#2b2b2b" stroke-width="1.15"/>
<text x="570.40" y="366.30" font-size="6.8" font-weight="bold" stroke="#1a1a1a" stroke-width="0.204" stroke-linejoin="round" text-anchor="middle" fill="#1a1a1a">13</text>
<text x="509.40" y="378.90" font-size="8.1" font-weight="bold" stroke="#1a1a1a" stroke-width="0.243" stroke-linejoin="round" text-anchor="middle" fill="#1a1a1a">Day post infection</text>
<text x="414.30" y="306.00" font-size="6.8" font-weight="bold" stroke="#1a1a1a" stroke-width="0.204" stroke-linejoin="round" text-anchor="middle" fill="#1a1a1a" transform="rotate(-90 414.30 306.00)">Body weight (%)</text>
<polyline points="447.20,321.30 464.80,319.20 482.40,308.10 500.00,302.90 517.60,298.40 535.20,294.00 552.80,288.00 570.40,284.40" fill="none" stroke="#6f6f6f" stroke-width="0.8" stroke-linejoin="round"/>
<line x1="464.80" y1="316.50" x2="464.80" y2="321.00" stroke="#6f6f6f" stroke-width="0.8"/>
<line x1="463.10" y1="316.50" x2="466.50" y2="316.50" stroke="#6f6f6f" stroke-width="0.8"/>
<line x1="463.10" y1="321.00" x2="466.50" y2="321.00" stroke="#6f6f6f" stroke-width="0.8"/>
<line x1="482.40" y1="305.00" x2="482.40" y2="311.00" stroke="#6f6f6f" stroke-width="0.8"/>
<line x1="480.70" y1="305.00" x2="484.10" y2="305.00" stroke="#6f6f6f" stroke-width="0.8"/>
<line x1="480.70" y1="311.00" x2="484.10" y2="311.00" stroke="#6f6f6f" stroke-width="0.8"/>
<line x1="500.00" y1="298.30" x2="500.00" y2="306.00" stroke="#6f6f6f" stroke-width="0.8"/>
<line x1="498.30" y1="298.30" x2="501.70" y2="298.30" stroke="#6f6f6f" stroke-width="0.8"/>
<line x1="498.30" y1="306.00" x2="501.70" y2="306.00" stroke="#6f6f6f" stroke-width="0.8"/>
<line x1="517.60" y1="293.30" x2="517.60" y2="301.00" stroke="#6f6f6f" stroke-width="0.8"/>
<line x1="515.90" y1="293.30" x2="519.30" y2="293.30" stroke="#6f6f6f" stroke-width="0.8"/>
<line x1="515.90" y1="301.00" x2="519.30" y2="301.00" stroke="#6f6f6f" stroke-width="0.8"/>
<line x1="535.20" y1="290.00" x2="535.20" y2="298.00" stroke="#6f6f6f" stroke-width="0.8"/>
<line x1="533.50" y1="290.00" x2="536.90" y2="290.00" stroke="#6f6f6f" stroke-width="0.8"/>
<line x1="533.50" y1="298.00" x2="536.90" y2="298.00" stroke="#6f6f6f" stroke-width="0.8"/>
<line x1="552.80" y1="284.50" x2="552.80" y2="291.00" stroke="#6f6f6f" stroke-width="0.8"/>
<line x1="551.10" y1="284.50" x2="554.50" y2="284.50" stroke="#6f6f6f" stroke-width="0.8"/>
<line x1="551.10" y1="291.00" x2="554.50" y2="291.00" stroke="#6f6f6f" stroke-width="0.8"/>
<rect x="445.20" y="319.30" width="4.00" height="4.00" fill="#999999" stroke="#333" stroke-width="0.65"/>
<rect x="462.80" y="317.20" width="4.00" height="4.00" fill="#999999" stroke="#333" stroke-width="0.65"/>
<rect x="480.40" y="306.10" width="4.00" height="4.00" fill="#999999" stroke="#333" stroke-width="0.65"/>
<rect x="498.00" y="300.90" width="4.00" height="4.00" fill="#999999" stroke="#333" stroke-width="0.65"/>
<rect x="515.60" y="296.40" width="4.00" height="4.00" fill="#999999" stroke="#333" stroke-width="0.65"/>
<rect x="533.20" y="292.00" width="4.00" height="4.00" fill="#999999" stroke="#333" stroke-width="0.65"/>
<rect x="550.80" y="286.00" width="4.00" height="4.00" fill="#999999" stroke="#333" stroke-width="0.65"/>
<rect x="568.40" y="282.40" width="4.00" height="4.00" fill="#999999" stroke="#333" stroke-width="0.65"/>
<polyline points="447.20,321.30 464.80,322.60 482.40,309.90 500.00,306.00 517.60,303.00 535.20,297.00 552.80,294.40 570.40,287.00" fill="none" stroke="#9B69D0" stroke-width="0.95" stroke-linejoin="round"/>
<line x1="464.80" y1="318.00" x2="464.80" y2="328.70" stroke="#9B69D0" stroke-width="0.8"/>
<line x1="463.10" y1="318.00" x2="466.50" y2="318.00" stroke="#9B69D0" stroke-width="0.8"/>
<line x1="463.10" y1="328.70" x2="466.50" y2="328.70" stroke="#9B69D0" stroke-width="0.8"/>
<line x1="482.40" y1="306.00" x2="482.40" y2="315.00" stroke="#9B69D0" stroke-width="0.8"/>
<line x1="480.70" y1="306.00" x2="484.10" y2="306.00" stroke="#9B69D0" stroke-width="0.8"/>
<line x1="480.70" y1="315.00" x2="484.10" y2="315.00" stroke="#9B69D0" stroke-width="0.8"/>
<line x1="500.00" y1="302.00" x2="500.00" y2="311.00" stroke="#9B69D0" stroke-width="0.8"/>
<line x1="498.30" y1="302.00" x2="501.70" y2="302.00" stroke="#9B69D0" stroke-width="0.8"/>
<line x1="498.30" y1="311.00" x2="501.70" y2="311.00" stroke="#9B69D0" stroke-width="0.8"/>
<line x1="517.60" y1="299.00" x2="517.60" y2="307.20" stroke="#9B69D0" stroke-width="0.8"/>
<line x1="515.90" y1="299.00" x2="519.30" y2="299.00" stroke="#9B69D0" stroke-width="0.8"/>
<line x1="515.90" y1="307.20" x2="519.30" y2="307.20" stroke="#9B69D0" stroke-width="0.8"/>
<line x1="535.20" y1="292.00" x2="535.20" y2="301.00" stroke="#9B69D0" stroke-width="0.8"/>
<line x1="533.50" y1="292.00" x2="536.90" y2="292.00" stroke="#9B69D0" stroke-width="0.8"/>
<line x1="533.50" y1="301.00" x2="536.90" y2="301.00" stroke="#9B69D0" stroke-width="0.8"/>
<line x1="552.80" y1="288.00" x2="552.80" y2="301.30" stroke="#9B69D0" stroke-width="0.8"/>
<line x1="551.10" y1="288.00" x2="554.50" y2="288.00" stroke="#9B69D0" stroke-width="0.8"/>
<line x1="551.10" y1="301.30" x2="554.50" y2="301.30" stroke="#9B69D0" stroke-width="0.8"/>
<line x1="570.40" y1="279.90" x2="570.40" y2="293.30" stroke="#9B69D0" stroke-width="0.8"/>
<line x1="568.70" y1="279.90" x2="572.10" y2="279.90" stroke="#9B69D0" stroke-width="0.8"/>
<line x1="568.70" y1="293.30" x2="572.10" y2="293.30" stroke="#9B69D0" stroke-width="0.8"/>
<polygon points="447.20,318.84 445.04,322.94 449.36,322.94" fill="#9B69D0" stroke="#24183a" stroke-width="0.65" stroke-linejoin="round"/>
<polygon points="464.80,320.14 462.64,324.24 466.96,324.24" fill="#9B69D0" stroke="#24183a" stroke-width="0.65" stroke-linejoin="round"/>
<polygon points="482.40,307.44 480.24,311.54 484.56,311.54" fill="#9B69D0" stroke="#24183a" stroke-width="0.65" stroke-linejoin="round"/>
<polygon points="500.00,303.54 497.84,307.64 502.16,307.64" fill="#9B69D0" stroke="#24183a" stroke-width="0.65" stroke-linejoin="round"/>
<polygon points="517.60,300.54 515.44,304.64 519.76,304.64" fill="#9B69D0" stroke="#24183a" stroke-width="0.65" stroke-linejoin="round"/>
<polygon points="535.20,294.54 533.04,298.64 537.36,298.64" fill="#9B69D0" stroke="#24183a" stroke-width="0.65" stroke-linejoin="round"/>
<polygon points="552.80,291.94 550.64,296.04 554.96,296.04" fill="#9B69D0" stroke="#24183a" stroke-width="0.65" stroke-linejoin="round"/>
<polygon points="570.40,284.54 568.24,288.64 572.56,288.64" fill="#9B69D0" stroke="#24183a" stroke-width="0.65" stroke-linejoin="round"/>
<polyline points="447.20,321.30 464.80,321.30 482.40,315.10 500.00,308.60 517.60,301.60 535.20,295.00 552.80,292.40 570.40,285.60" fill="none" stroke="#ED9C46" stroke-width="0.95" stroke-linejoin="round"/>
<line x1="464.80" y1="318.00" x2="464.80" y2="325.20" stroke="#ED9C46" stroke-width="0.8"/>
<line x1="463.10" y1="318.00" x2="466.50" y2="318.00" stroke="#ED9C46" stroke-width="0.8"/>
<line x1="463.10" y1="325.20" x2="466.50" y2="325.20" stroke="#ED9C46" stroke-width="0.8"/>
<line x1="482.40" y1="312.00" x2="482.40" y2="318.20" stroke="#ED9C46" stroke-width="0.8"/>
<line x1="480.70" y1="312.00" x2="484.10" y2="312.00" stroke="#ED9C46" stroke-width="0.8"/>
<line x1="480.70" y1="318.20" x2="484.10" y2="318.20" stroke="#ED9C46" stroke-width="0.8"/>
<line x1="500.00" y1="304.50" x2="500.00" y2="312.20" stroke="#ED9C46" stroke-width="0.8"/>
<line x1="498.30" y1="304.50" x2="501.70" y2="304.50" stroke="#ED9C46" stroke-width="0.8"/>
<line x1="498.30" y1="312.20" x2="501.70" y2="312.20" stroke="#ED9C46" stroke-width="0.8"/>
<line x1="517.60" y1="297.00" x2="517.60" y2="305.00" stroke="#ED9C46" stroke-width="0.8"/>
<line x1="515.90" y1="297.00" x2="519.30" y2="297.00" stroke="#ED9C46" stroke-width="0.8"/>
<line x1="515.90" y1="305.00" x2="519.30" y2="305.00" stroke="#ED9C46" stroke-width="0.8"/>
<line x1="535.20" y1="289.60" x2="535.20" y2="302.50" stroke="#ED9C46" stroke-width="0.8"/>
<line x1="533.50" y1="289.60" x2="536.90" y2="289.60" stroke="#ED9C46" stroke-width="0.8"/>
<line x1="533.50" y1="302.50" x2="536.90" y2="302.50" stroke="#ED9C46" stroke-width="0.8"/>
<line x1="552.80" y1="288.00" x2="552.80" y2="296.50" stroke="#ED9C46" stroke-width="0.8"/>
<line x1="551.10" y1="288.00" x2="554.50" y2="288.00" stroke="#ED9C46" stroke-width="0.8"/>
<line x1="551.10" y1="296.50" x2="554.50" y2="296.50" stroke="#ED9C46" stroke-width="0.8"/>
<line x1="570.40" y1="282.00" x2="570.40" y2="289.00" stroke="#ED9C46" stroke-width="0.8"/>
<line x1="568.70" y1="282.00" x2="572.10" y2="282.00" stroke="#ED9C46" stroke-width="0.8"/>
<line x1="568.70" y1="289.00" x2="572.10" y2="289.00" stroke="#ED9C46" stroke-width="0.8"/>
<circle cx="447.20" cy="321.30" r="2.11" fill="#ED9C46" stroke="#2e2216" stroke-width="0.65"/>
<circle cx="464.80" cy="321.30" r="2.11" fill="#ED9C46" stroke="#2e2216" stroke-width="0.65"/>
<circle cx="482.40" cy="315.10" r="2.11" fill="#ED9C46" stroke="#2e2216" stroke-width="0.65"/>
<circle cx="500.00" cy="308.60" r="2.11" fill="#ED9C46" stroke="#2e2216" stroke-width="0.65"/>
<circle cx="517.60" cy="301.60" r="2.11" fill="#ED9C46" stroke="#2e2216" stroke-width="0.65"/>
<circle cx="535.20" cy="295.00" r="2.11" fill="#ED9C46" stroke="#2e2216" stroke-width="0.65"/>
<circle cx="552.80" cy="292.40" r="2.11" fill="#ED9C46" stroke="#2e2216" stroke-width="0.65"/>
<circle cx="570.40" cy="285.60" r="2.11" fill="#ED9C46" stroke="#2e2216" stroke-width="0.65"/>
<line x1="584.40" y1="262.90" x2="594.90" y2="262.90" stroke="#ED9C46" stroke-width="1.0" opacity="0.55"/>
<circle cx="589.80" cy="262.90" r="1.85" fill="#ED9C46" stroke="#2e2216" stroke-width="0.65"/>
<text x="600.60" y="265.90" font-size="8.35" stroke="#222" stroke-width="0.100" stroke-linejoin="round" text-anchor="start" fill="#222">Low DIPs</text>
<line x1="584.40" y1="275.85" x2="594.90" y2="275.85" stroke="#9B69D0" stroke-width="1.0" opacity="0.55"/>
<polygon points="589.80,273.68 587.90,277.29 591.70,277.29" fill="#9B69D0" stroke="#24183a" stroke-width="0.65" stroke-linejoin="round"/>
<text x="600.60" y="278.85" font-size="8.35" stroke="#222" stroke-width="0.100" stroke-linejoin="round" text-anchor="start" fill="#222">High DIPs (same STV)</text>
<line x1="584.40" y1="288.80" x2="594.90" y2="288.80" stroke="#7a7a7a" stroke-width="1.0" opacity="0.55"/>
<rect x="588.04" y="287.04" width="3.52" height="3.52" fill="#999999" stroke="#333" stroke-width="0.65"/>
<text x="600.60" y="291.80" font-size="8.35" stroke="#222" stroke-width="0.100" stroke-linejoin="round" text-anchor="start" fill="#222">Placebo</text>
<text x="1.20" y="409.40" font-size="14.8" font-weight="bold" stroke="#000" stroke-width="0.300" stroke-linejoin="round" text-anchor="start" fill="#000">e</text>
<text x="35.20" y="438.90" font-size="6.8" stroke="#222" stroke-width="0.082" stroke-linejoin="round" text-anchor="end" fill="#222">KD</text>
<text x="35.20" y="451.00" font-size="6.8" stroke="#222" stroke-width="0.082" stroke-linejoin="round" text-anchor="end" fill="#222">150</text>
<text x="35.20" y="463.00" font-size="6.8" stroke="#222" stroke-width="0.082" stroke-linejoin="round" text-anchor="end" fill="#222">100</text>
<text x="35.20" y="473.40" font-size="6.8" stroke="#222" stroke-width="0.082" stroke-linejoin="round" text-anchor="end" fill="#222">75</text>
<text x="35.20" y="502.40" font-size="6.8" stroke="#222" stroke-width="0.082" stroke-linejoin="round" text-anchor="end" fill="#222">37</text>
<defs><filter id="bl" x="-30%" y="-80%" width="160%" height="260%"><feGaussianBlur stdDeviation="1.1"/></filter><filter id="bl2" x="-30%" y="-80%" width="160%" height="260%"><feGaussianBlur stdDeviation="0.95"/></filter><filter id="bl3" x="-30%" y="-80%" width="160%" height="260%"><feGaussianBlur stdDeviation="1.6"/></filter></defs>
<g filter="url(#bl3)"><rect x="44" y="443.5" width="112" height="31" fill="#f9f9f9"/><rect x="44" y="491.5" width="112" height="29" fill="#f9f9f9"/><rect x="47.5" y="444.5" width="18" height="29" fill="#e9e9e9"/><rect x="98" y="444.5" width="22" height="29" fill="#f1f1f1"/><rect x="72.5" y="493.5" width="20" height="9" fill="#ececec"/><rect x="98" y="514" width="22" height="5" fill="#f1f1f1"/></g>
<g filter="url(#bl)"><rect x="48.3" y="446.4" width="17" height="3.0" rx="1.2" fill="#c6c6c6"/><rect x="48.3" y="459.2" width="17" height="3.4" rx="1.2" fill="#b2b2b2"/><rect x="48.3" y="467.2" width="17" height="3.6" rx="1.2" fill="#bdbdbd"/><rect x="48.3" y="495.4" width="17.4" height="6.6" rx="2.5" fill="#bababa"/></g>
<g filter="url(#bl2)"><rect x="74.5" y="455.7" width="16" height="1.6" fill="#e6e6e6"/><path d="M99.6,454.0 C104,452.2 114,451.9 119.4,452.6 L119.4,457.1 C114,458.7 105,459.4 99.6,458.6 Z" fill="#000"/><rect x="100.5" y="466.8" width="16" height="2.0" fill="#cdcdcd"/><rect x="127.4" y="454.5" width="16.6" height="3.0" rx="1.4" fill="#4a4a4a"/><rect x="72.8" y="503.6" width="19.6" height="4.2" rx="2" fill="#141414"/><rect x="99.2" y="502.6" width="20.4" height="5.2" rx="2.4" fill="#000"/><rect x="127.0" y="503.0" width="19.2" height="4.4" rx="2.1" fill="#060606"/></g>
<text x="163.60" y="461.00" font-size="8.7" font-weight="bold" stroke="#111" stroke-width="0.261" stroke-linejoin="round" text-anchor="start" fill="#111">RIG-I</text>
<text x="163.60" y="511.00" font-size="8.7" font-weight="bold" stroke="#111" stroke-width="0.261" stroke-linejoin="round" text-anchor="start" fill="#111">GAPDH</text>
<text x="54.20" y="439.50" font-size="6.4" stroke="#222" stroke-width="0.077" stroke-linejoin="round" text-anchor="start" fill="#222" transform="rotate(-45 54.20 439.50)">MW</text>
<text x="82.30" y="438.90" font-size="6.4" stroke="#222" stroke-width="0.077" stroke-linejoin="round" text-anchor="start" fill="#222" transform="rotate(-45 82.30 438.90)">Placebo</text>
<text x="109.00" y="431.00" font-size="6.4" stroke="#222" stroke-width="0.077" stroke-linejoin="round" text-anchor="start" fill="#222" transform="rotate(-45 109.00 431.00)">High DIPs</text>
<text x="113.20" y="438.20" font-size="6.4" stroke="#222" stroke-width="0.077" stroke-linejoin="round" text-anchor="start" fill="#222" transform="rotate(-45 113.20 438.20)">(same STV)</text>
<text x="136.90" y="438.70" font-size="6.4" stroke="#222" stroke-width="0.077" stroke-linejoin="round" text-anchor="start" fill="#222" transform="rotate(-45 136.90 438.70)">Low DIPs</text>
<text x="218.60" y="408.90" font-size="14.8" font-weight="bold" stroke="#000" stroke-width="0.300" stroke-linejoin="round" text-anchor="start" fill="#000">f</text>
<text x="332.80" y="411.60" font-size="9.3" font-weight="bold" stroke="#111" stroke-width="0.279" stroke-linejoin="round" text-anchor="middle" fill="#111">IFN-β (A549)</text>
<line x1="259.40" y1="424.10" x2="259.40" y2="522.50" stroke="#2b2b2b" stroke-width="1.35"/>
<line x1="255.40" y1="424.50" x2="259.40" y2="424.50" stroke="#2b2b2b" stroke-width="1.15"/>
<text x="254.40" y="427.30" font-size="6.9" font-weight="bold" stroke="#1a1a1a" stroke-width="0.207" stroke-linejoin="round" text-anchor="end" fill="#1a1a1a">40</text>
<line x1="255.40" y1="449.50" x2="259.40" y2="449.50" stroke="#2b2b2b" stroke-width="1.15"/>
<text x="254.40" y="451.60" font-size="6.9" font-weight="bold" stroke="#1a1a1a" stroke-width="0.207" stroke-linejoin="round" text-anchor="end" fill="#1a1a1a">30</text>
<line x1="255.40" y1="473.50" x2="259.40" y2="473.50" stroke="#2b2b2b" stroke-width="1.15"/>
<text x="254.40" y="475.90" font-size="6.9" font-weight="bold" stroke="#1a1a1a" stroke-width="0.207" stroke-linejoin="round" text-anchor="end" fill="#1a1a1a">20</text>
<line x1="255.40" y1="497.50" x2="259.40" y2="497.50" stroke="#2b2b2b" stroke-width="1.15"/>
<text x="254.40" y="500.20" font-size="6.9" font-weight="bold" stroke="#1a1a1a" stroke-width="0.207" stroke-linejoin="round" text-anchor="end" fill="#1a1a1a">10</text>
<line x1="255.40" y1="521.50" x2="259.40" y2="521.50" stroke="#2b2b2b" stroke-width="1.15"/>
<text x="254.40" y="524.50" font-size="6.9" font-weight="bold" stroke="#1a1a1a" stroke-width="0.207" stroke-linejoin="round" text-anchor="end" fill="#1a1a1a">0</text>
<line x1="255.40" y1="521.90" x2="406.40" y2="521.90" stroke="#2b2b2b" stroke-width="1.35"/>
<line x1="272.50" y1="521.90" x2="272.50" y2="525.90" stroke="#2b2b2b" stroke-width="1.15"/>
<text x="272.50" y="533.90" font-size="6.9" font-weight="bold" stroke="#1a1a1a" stroke-width="0.207" stroke-linejoin="round" text-anchor="middle" fill="#1a1a1a">0</text>
<line x1="292.50" y1="521.90" x2="292.50" y2="525.90" stroke="#2b2b2b" stroke-width="1.15"/>
<text x="292.50" y="533.90" font-size="6.9" font-weight="bold" stroke="#1a1a1a" stroke-width="0.207" stroke-linejoin="round" text-anchor="middle" fill="#1a1a1a">8</text>
<line x1="312.50" y1="521.90" x2="312.50" y2="525.90" stroke="#2b2b2b" stroke-width="1.15"/>
<text x="312.50" y="533.90" font-size="6.9" font-weight="bold" stroke="#1a1a1a" stroke-width="0.207" stroke-linejoin="round" text-anchor="middle" fill="#1a1a1a">16</text>
<line x1="332.50" y1="521.90" x2="332.50" y2="525.90" stroke="#2b2b2b" stroke-width="1.15"/>
<text x="332.50" y="533.90" font-size="6.9" font-weight="bold" stroke="#1a1a1a" stroke-width="0.207" stroke-linejoin="round" text-anchor="middle" fill="#1a1a1a">24</text>
<line x1="352.50" y1="521.90" x2="352.50" y2="525.90" stroke="#2b2b2b" stroke-width="1.15"/>
<text x="352.50" y="533.90" font-size="6.9" font-weight="bold" stroke="#1a1a1a" stroke-width="0.207" stroke-linejoin="round" text-anchor="middle" fill="#1a1a1a">32</text>
<line x1="372.50" y1="521.90" x2="372.50" y2="525.90" stroke="#2b2b2b" stroke-width="1.15"/>
<text x="372.50" y="533.90" font-size="6.9" font-weight="bold" stroke="#1a1a1a" stroke-width="0.207" stroke-linejoin="round" text-anchor="middle" fill="#1a1a1a">40</text>
<line x1="392.50" y1="521.90" x2="392.50" y2="525.90" stroke="#2b2b2b" stroke-width="1.15"/>
<text x="392.50" y="533.90" font-size="6.9" font-weight="bold" stroke="#1a1a1a" stroke-width="0.207" stroke-linejoin="round" text-anchor="middle" fill="#1a1a1a">48</text>
<text x="332.80" y="546.00" font-size="8.1" font-weight="bold" stroke="#1a1a1a" stroke-width="0.243" stroke-linejoin="round" text-anchor="middle" fill="#1a1a1a">Hour post infection</text>
<text x="239.50" y="472.80" font-size="6.9" font-weight="bold" stroke="#1a1a1a" stroke-width="0.207" stroke-linejoin="round" text-anchor="middle" fill="#1a1a1a" transform="rotate(-90 239.50 472.80)">Relative mRNA expression</text>
<polyline points="272.50,519.50 292.50,507.00 312.50,472.40 332.50,440.60 392.50,466.60" fill="none" stroke="#9B69D0" stroke-width="1.2" stroke-linejoin="round"/>
<line x1="312.50" y1="468.00" x2="312.50" y2="477.60" stroke="#9B69D0" stroke-width="0.8"/>
<line x1="310.60" y1="468.00" x2="314.40" y2="468.00" stroke="#9B69D0" stroke-width="0.8"/>
<line x1="310.60" y1="477.60" x2="314.40" y2="477.60" stroke="#9B69D0" stroke-width="0.8"/>
<line x1="332.50" y1="431.60" x2="332.50" y2="448.60" stroke="#9B69D0" stroke-width="0.8"/>
<line x1="330.60" y1="431.60" x2="334.40" y2="431.60" stroke="#9B69D0" stroke-width="0.8"/>
<line x1="330.60" y1="448.60" x2="334.40" y2="448.60" stroke="#9B69D0" stroke-width="0.8"/>
<line x1="392.50" y1="461.40" x2="392.50" y2="471.40" stroke="#9B69D0" stroke-width="0.8"/>
<line x1="390.60" y1="461.40" x2="394.40" y2="461.40" stroke="#9B69D0" stroke-width="0.8"/>
<line x1="390.60" y1="471.40" x2="394.40" y2="471.40" stroke="#9B69D0" stroke-width="0.8"/>
<polygon points="272.50,517.22 270.50,521.02 274.50,521.02" fill="#9B69D0" stroke="#24183a" stroke-width="0.65" stroke-linejoin="round"/>
<polygon points="292.50,504.72 290.50,508.52 294.50,508.52" fill="#9B69D0" stroke="#24183a" stroke-width="0.65" stroke-linejoin="round"/>
<polygon points="312.50,470.12 310.50,473.92 314.50,473.92" fill="#9B69D0" stroke="#24183a" stroke-width="0.65" stroke-linejoin="round"/>
<polygon points="332.50,438.32 330.50,442.12 334.50,442.12" fill="#9B69D0" stroke="#24183a" stroke-width="0.65" stroke-linejoin="round"/>
<polygon points="392.50,464.32 390.50,468.12 394.50,468.12" fill="#9B69D0" stroke="#24183a" stroke-width="0.65" stroke-linejoin="round"/>
<polyline points="272.50,519.50 292.50,505.50 312.50,502.00 332.50,496.60 392.50,485.00" fill="none" stroke="#F08A2C" stroke-width="1.3" stroke-linejoin="round"/>
<line x1="332.50" y1="492.40" x2="332.50" y2="501.60" stroke="#F08A2C" stroke-width="0.8"/>
<line x1="330.60" y1="492.40" x2="334.40" y2="492.40" stroke="#F08A2C" stroke-width="0.8"/>
<line x1="330.60" y1="501.60" x2="334.40" y2="501.60" stroke="#F08A2C" stroke-width="0.8"/>
<line x1="392.50" y1="476.40" x2="392.50" y2="493.40" stroke="#F08A2C" stroke-width="0.8"/>
<line x1="390.60" y1="476.40" x2="394.40" y2="476.40" stroke="#F08A2C" stroke-width="0.8"/>
<line x1="390.60" y1="493.40" x2="394.40" y2="493.40" stroke="#F08A2C" stroke-width="0.8"/>
<circle cx="272.50" cy="519.50" r="1.95" fill="#F58A25" stroke="#2e2216" stroke-width="0.65"/>
<circle cx="292.50" cy="505.50" r="1.95" fill="#F58A25" stroke="#2e2216" stroke-width="0.65"/>
<circle cx="312.50" cy="502.00" r="1.95" fill="#F58A25" stroke="#2e2216" stroke-width="0.65"/>
<circle cx="332.50" cy="496.60" r="1.95" fill="#F58A25" stroke="#2e2216" stroke-width="0.65"/>
<circle cx="392.50" cy="485.00" r="1.95" fill="#F58A25" stroke="#2e2216" stroke-width="0.65"/>
<text x="287.00" y="501.20" font-size="3.8" font-weight="bold" stroke="#222" stroke-width="0.114" stroke-linejoin="round" text-anchor="middle" fill="#222">p=0.3484</text>
<text x="308.70" y="464.50" font-size="3.8" font-weight="bold" stroke="#222" stroke-width="0.114" stroke-linejoin="round" text-anchor="middle" fill="#222">p=0.0007</text>
<text x="333.00" y="429.40" font-size="3.8" font-weight="bold" stroke="#222" stroke-width="0.114" stroke-linejoin="round" text-anchor="middle" fill="#222">p=0.0005</text>
<text x="393.00" y="458.80" font-size="3.8" font-weight="bold" stroke="#222" stroke-width="0.114" stroke-linejoin="round" text-anchor="middle" fill="#222">p=0.0269</text>
<line x1="265.10" y1="427.50" x2="274.30" y2="427.50" stroke="#F08A2C" stroke-width="1.0" opacity="0.6"/>
<circle cx="269.50" cy="427.50" r="1.56" fill="#F58A25" stroke="#2e2216" stroke-width="0.65"/>
<line x1="265.10" y1="438.40" x2="274.30" y2="438.40" stroke="#9B69D0" stroke-width="1.0" opacity="0.6"/>
<polygon points="269.50,436.58 267.90,439.62 271.10,439.62" fill="#9B69D0" stroke="#24183a" stroke-width="0.65" stroke-linejoin="round"/>
<text x="278.60" y="429.80" font-size="7.1" stroke="#222" stroke-width="0.085" stroke-linejoin="round" text-anchor="start" fill="#222">Low DIPs</text>
<text x="278.60" y="440.40" font-size="7.1" stroke="#222" stroke-width="0.085" stroke-linejoin="round" text-anchor="start" fill="#222">High DIPs</text>
<text x="294.00" y="450.50" font-size="7.1" stroke="#222" stroke-width="0.085" stroke-linejoin="round" text-anchor="middle" fill="#222">(same STV)</text>
<text x="538.60" y="413.80" font-size="9.3" font-weight="bold" stroke="#111" stroke-width="0.279" stroke-linejoin="round" text-anchor="start" fill="#111">DC2.4</text>
<line x1="467.00" y1="423.20" x2="467.00" y2="522.00" stroke="#2b2b2b" stroke-width="1.35"/>
<line x1="463.40" y1="423.50" x2="467.00" y2="423.50" stroke="#2b2b2b" stroke-width="1.15"/>
<text x="462.40" y="426.40" font-size="6.4" font-weight="bold" stroke="#1a1a1a" stroke-width="0.192" stroke-linejoin="round" text-anchor="end" fill="#1a1a1a">250</text>
<line x1="463.40" y1="443.50" x2="467.00" y2="443.50" stroke="#2b2b2b" stroke-width="1.15"/>
<text x="462.40" y="445.92" font-size="6.4" font-weight="bold" stroke="#1a1a1a" stroke-width="0.192" stroke-linejoin="round" text-anchor="end" fill="#1a1a1a">200</text>
<line x1="463.40" y1="462.50" x2="467.00" y2="462.50" stroke="#2b2b2b" stroke-width="1.15"/>
<text x="462.40" y="465.44" font-size="6.4" font-weight="bold" stroke="#1a1a1a" stroke-width="0.192" stroke-linejoin="round" text-anchor="end" fill="#1a1a1a">150</text>
<line x1="463.40" y1="482.50" x2="467.00" y2="482.50" stroke="#2b2b2b" stroke-width="1.15"/>
<text x="462.40" y="484.96" font-size="6.4" font-weight="bold" stroke="#1a1a1a" stroke-width="0.192" stroke-linejoin="round" text-anchor="end" fill="#1a1a1a">100</text>
<line x1="463.40" y1="501.50" x2="467.00" y2="501.50" stroke="#2b2b2b" stroke-width="1.15"/>
<text x="462.40" y="504.48" font-size="6.4" font-weight="bold" stroke="#1a1a1a" stroke-width="0.192" stroke-linejoin="round" text-anchor="end" fill="#1a1a1a">50</text>
<line x1="463.40" y1="521.50" x2="467.00" y2="521.50" stroke="#2b2b2b" stroke-width="1.15"/>
<text x="462.40" y="524.00" font-size="6.4" font-weight="bold" stroke="#1a1a1a" stroke-width="0.192" stroke-linejoin="round" text-anchor="end" fill="#1a1a1a">0</text>
<line x1="466.40" y1="521.40" x2="630.70" y2="521.40" stroke="#2b2b2b" stroke-width="1.35"/>
<line x1="506.00" y1="521.40" x2="506.00" y2="525.10" stroke="#2b2b2b" stroke-width="1.0"/>
<line x1="591.60" y1="521.40" x2="591.60" y2="525.10" stroke="#2b2b2b" stroke-width="1.0"/>
<text x="506.20" y="533.60" font-size="7.9" font-weight="bold" stroke="#111" stroke-width="0.237" stroke-linejoin="round" text-anchor="middle" fill="#111">IFN-α</text>
<text x="591.20" y="534.40" font-size="7.9" font-weight="bold" stroke="#111" stroke-width="0.237" stroke-linejoin="round" text-anchor="middle" fill="#111">IFN-β</text>
<text x="535.00" y="547.00" font-size="8.7" font-weight="bold" stroke="#111" stroke-width="0.261" stroke-linejoin="round" text-anchor="start" fill="#111">8 hpi</text>
<text x="447.20" y="472.70" font-size="6.9" font-weight="bold" stroke="#1a1a1a" stroke-width="0.207" stroke-linejoin="round" text-anchor="middle" fill="#1a1a1a" transform="rotate(-90 447.20 472.70)">Relative mRNA expression</text>
<rect x="475.1" y="509.1" width="16.1" height="12.3" fill="#ED9C46"/>
<rect x="498.9" y="447.2" width="15.2" height="74.2" fill="#9B69D0"/>
<rect x="561.6" y="518.9" width="14.9" height="2.5" fill="#ED9C46"/>
<rect x="584.1" y="506.9" width="15.9" height="14.5" fill="#9B69D0"/>
<polyline points="483.10,434.30 483.10,426.40 528.70,426.40 528.70,434.30" fill="none" stroke="#555" stroke-width="0.75" stroke-linejoin="round"/>
<polyline points="483.00,501.60 483.00,437.60 529.60,437.60 529.60,517.00" fill="none" stroke="#555" stroke-width="0.75" stroke-linejoin="round"/>
<line x1="506.40" y1="437.60" x2="506.40" y2="444.00" stroke="#555" stroke-width="0.75"/>
<text x="507.00" y="424.40" font-size="3.8" font-weight="bold" stroke="#222" stroke-width="0.114" stroke-linejoin="round" text-anchor="middle" fill="#222">p=0.0003</text>
<text x="494.60" y="435.40" font-size="3.8" font-weight="bold" stroke="#222" stroke-width="0.114" stroke-linejoin="round" text-anchor="middle" fill="#222">p&lt;0.0001</text>
<text x="517.70" y="435.40" font-size="3.8" font-weight="bold" stroke="#222" stroke-width="0.114" stroke-linejoin="round" text-anchor="middle" fill="#222">p&lt;0.0001</text>
<polyline points="569.30,491.30 569.30,484.10 615.50,484.10 615.50,491.30" fill="none" stroke="#555" stroke-width="0.75" stroke-linejoin="round"/>
<polyline points="569.30,515.80 569.30,496.40 615.50,496.40 615.50,516.80" fill="none" stroke="#555" stroke-width="0.75" stroke-linejoin="round"/>
<line x1="592.30" y1="496.40" x2="592.30" y2="503.50" stroke="#555" stroke-width="0.75"/>
<text x="592.80" y="481.60" font-size="3.8" font-weight="bold" stroke="#222" stroke-width="0.114" stroke-linejoin="round" text-anchor="middle" fill="#222">p=0.1030</text>
<text x="580.50" y="494.40" font-size="3.8" font-weight="bold" stroke="#222" stroke-width="0.114" stroke-linejoin="round" text-anchor="middle" fill="#222">p&lt;0.0001</text>
<text x="603.50" y="494.40" font-size="3.8" font-weight="bold" stroke="#222" stroke-width="0.114" stroke-linejoin="round" text-anchor="middle" fill="#222">p&lt;0.0001</text>
<line x1="483.10" y1="506.40" x2="483.10" y2="509.10" stroke="#555" stroke-width="0.7"/>
<line x1="480.60" y1="506.40" x2="485.60" y2="506.40" stroke="#555" stroke-width="0.7"/>
<line x1="480.60" y1="509.10" x2="485.60" y2="509.10" stroke="#555" stroke-width="0.7"/>
<line x1="506.40" y1="444.50" x2="506.40" y2="447.20" stroke="#555" stroke-width="0.7"/>
<line x1="503.90" y1="444.50" x2="508.90" y2="444.50" stroke="#555" stroke-width="0.7"/>
<line x1="503.90" y1="447.20" x2="508.90" y2="447.20" stroke="#555" stroke-width="0.7"/>
<line x1="592.30" y1="504.00" x2="592.30" y2="506.90" stroke="#555" stroke-width="0.7"/>
<line x1="589.80" y1="504.00" x2="594.80" y2="504.00" stroke="#555" stroke-width="0.7"/>
<line x1="589.80" y1="506.90" x2="594.80" y2="506.90" stroke="#555" stroke-width="0.7"/>
<circle cx="480.50" cy="511.30" r="1.25" fill="#fff" stroke="#222" stroke-width="0.55"/>
<circle cx="485.50" cy="510.30" r="1.25" fill="#fff" stroke="#222" stroke-width="0.55"/>
<circle cx="483.10" cy="506.60" r="1.25" fill="#fff" stroke="#222" stroke-width="0.55"/>
<circle cx="503.60" cy="447.60" r="1.25" fill="#fff" stroke="#222" stroke-width="0.55"/>
<circle cx="506.40" cy="445.20" r="1.25" fill="#fff" stroke="#222" stroke-width="0.55"/>
<circle cx="509.30" cy="447.00" r="1.25" fill="#fff" stroke="#222" stroke-width="0.55"/>
<circle cx="524.70" cy="520.90" r="1.25" fill="#fff" stroke="#222" stroke-width="0.55"/>
<circle cx="529.80" cy="520.90" r="1.25" fill="#fff" stroke="#222" stroke-width="0.55"/>
<circle cx="534.60" cy="520.90" r="1.25" fill="#fff" stroke="#222" stroke-width="0.55"/>
<circle cx="563.70" cy="519.60" r="1.25" fill="#fff" stroke="#222" stroke-width="0.55"/>
<circle cx="568.30" cy="518.30" r="1.25" fill="#fff" stroke="#222" stroke-width="0.55"/>
<circle cx="573.40" cy="519.60" r="1.25" fill="#fff" stroke="#222" stroke-width="0.55"/>
<circle cx="589.20" cy="507.60" r="1.25" fill="#fff" stroke="#222" stroke-width="0.55"/>
<circle cx="594.30" cy="507.60" r="1.25" fill="#fff" stroke="#222" stroke-width="0.55"/>
<circle cx="591.80" cy="505.10" r="1.25" fill="#fff" stroke="#222" stroke-width="0.55"/>
<circle cx="610.20" cy="520.90" r="1.25" fill="#fff" stroke="#222" stroke-width="0.55"/>
<circle cx="615.30" cy="520.90" r="1.25" fill="#fff" stroke="#222" stroke-width="0.55"/>
<circle cx="620.20" cy="520.90" r="1.25" fill="#fff" stroke="#222" stroke-width="0.55"/>
<rect x="556.1" y="426.90" width="8.9" height="4.7" fill="#ED9C46"/>
<text x="569.80" y="431.90" font-size="6.8" stroke="#222" stroke-width="0.082" stroke-linejoin="round" text-anchor="start" fill="#222">Low DIPs</text>
<rect x="556.1" y="437.95" width="8.9" height="4.7" fill="#9B69D0"/>
<text x="569.80" y="442.95" font-size="6.8" stroke="#222" stroke-width="0.082" stroke-linejoin="round" text-anchor="start" fill="#222">High DIPs (same STV)</text>
<rect x="556.1" y="449.00" width="8.9" height="4.7" fill="#7EDB2C"/>
<text x="569.80" y="454.00" font-size="6.8" stroke="#222" stroke-width="0.082" stroke-linejoin="round" text-anchor="start" fill="#222">High DIPs (same Total)</text>
</svg>
</body></html>
